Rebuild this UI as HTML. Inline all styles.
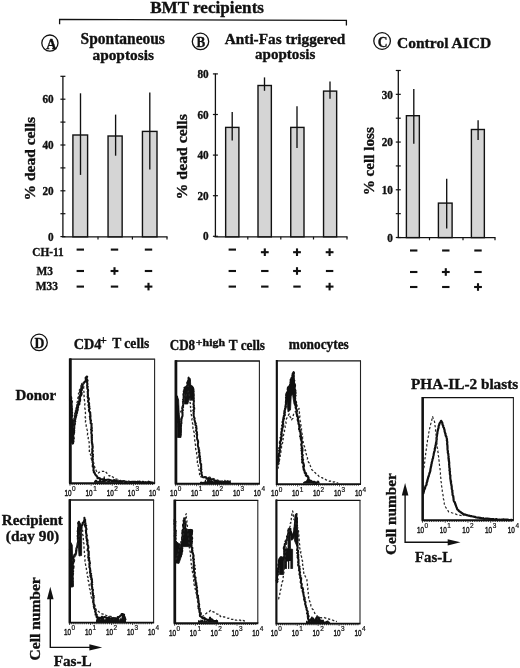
<!DOCTYPE html>
<html><head><meta charset="utf-8"><style>
html,body{margin:0;padding:0;background:#fff;}
svg{display:block;will-change:transform;}
</style></head><body>
<svg width="520" height="668" viewBox="0 0 520 668" fill="#111">
<rect width="520" height="668" fill="#fff"/>
<text x="150.2" y="12.6" style="font-family:'Liberation Serif',serif;font-weight:bold;font-size:17px" stroke="#111" stroke-width="0.35" textLength="113.8" lengthAdjust="spacingAndGlyphs">BMT recipients</text>
<path d="M59.6,24.2 L59.6,19.3 L346.4,20.4 L346.4,25.4" fill="none" stroke="#111" stroke-width="1.3"/>
<circle cx="49.9" cy="43.1" r="8.1" fill="none" stroke="#111" stroke-width="1.3"/>
<text x="46.2" y="48.5" style="font-family:'Liberation Serif',serif;font-weight:bold;font-size:14px" stroke="#111" stroke-width="0.35">A</text>
<circle cx="200.5" cy="41.4" r="8.2" fill="none" stroke="#111" stroke-width="1.3"/>
<text x="196.6" y="47.0" style="font-family:'Liberation Serif',serif;font-weight:bold;font-size:15px" stroke="#111" stroke-width="0.35" textLength="8.7" lengthAdjust="spacingAndGlyphs">B</text>
<circle cx="382.1" cy="41.0" r="8.3" fill="none" stroke="#111" stroke-width="1.3"/>
<text x="377.8" y="46.6" style="font-family:'Liberation Serif',serif;font-weight:bold;font-size:15px" stroke="#111" stroke-width="0.35" textLength="9.8" lengthAdjust="spacingAndGlyphs">C</text>
<circle cx="39.1" cy="342.4" r="8.2" fill="none" stroke="#111" stroke-width="1.3"/>
<text x="34.6" y="348.0" style="font-family:'Liberation Serif',serif;font-weight:bold;font-size:15px" stroke="#111" stroke-width="0.35" textLength="9.9" lengthAdjust="spacingAndGlyphs">D</text>
<text x="80.6" y="44.0" style="font-family:'Liberation Serif',serif;font-weight:bold;font-size:16px" stroke="#111" stroke-width="0.35" textLength="84.3" lengthAdjust="spacingAndGlyphs">Spontaneous</text>
<text x="92.5" y="59.7" style="font-family:'Liberation Serif',serif;font-weight:bold;font-size:15.5px" stroke="#111" stroke-width="0.35" textLength="61.4" lengthAdjust="spacingAndGlyphs">apoptosis</text>
<text x="224.8" y="43.9" style="font-family:'Liberation Serif',serif;font-weight:bold;font-size:15.5px" stroke="#111" stroke-width="0.35" textLength="120.5" lengthAdjust="spacingAndGlyphs">Anti-Fas triggered</text>
<text x="255.0" y="59.1" style="font-family:'Liberation Serif',serif;font-weight:bold;font-size:15.5px" stroke="#111" stroke-width="0.35" textLength="60.3" lengthAdjust="spacingAndGlyphs">apoptosis</text>
<text x="397.0" y="48.0" style="font-family:'Liberation Serif',serif;font-weight:bold;font-size:15.5px" stroke="#111" stroke-width="0.35" textLength="94.2" lengthAdjust="spacingAndGlyphs">Control AICD</text>
<line x1="62.9" y1="76.0" x2="62.9" y2="237.1" stroke="#111" stroke-width="1.3"/>
<line x1="60.4" y1="236.6" x2="65.4" y2="236.6" stroke="#111" stroke-width="1.2"/>
<line x1="60.4" y1="213.7" x2="65.4" y2="213.7" stroke="#111" stroke-width="1.2"/>
<line x1="60.4" y1="190.8" x2="65.4" y2="190.8" stroke="#111" stroke-width="1.2"/>
<line x1="60.4" y1="167.9" x2="65.4" y2="167.9" stroke="#111" stroke-width="1.2"/>
<line x1="60.4" y1="145.0" x2="65.4" y2="145.0" stroke="#111" stroke-width="1.2"/>
<line x1="60.4" y1="122.1" x2="65.4" y2="122.1" stroke="#111" stroke-width="1.2"/>
<line x1="60.4" y1="99.20000000000002" x2="65.4" y2="99.20000000000002" stroke="#111" stroke-width="1.2"/>
<line x1="60.4" y1="76.30000000000001" x2="65.4" y2="76.30000000000001" stroke="#111" stroke-width="1.2"/>
<text x="48.1" y="240.7" style="font-family:'Liberation Serif',serif;font-weight:bold;font-size:11.5px" stroke="#111" stroke-width="0.35" textLength="5.6" lengthAdjust="spacingAndGlyphs">0</text>
<text x="42.5" y="194.9" style="font-family:'Liberation Serif',serif;font-weight:bold;font-size:11.5px" stroke="#111" stroke-width="0.35" textLength="11.2" lengthAdjust="spacingAndGlyphs">20</text>
<text x="42.5" y="149.1" style="font-family:'Liberation Serif',serif;font-weight:bold;font-size:11.5px" stroke="#111" stroke-width="0.35" textLength="11.2" lengthAdjust="spacingAndGlyphs">40</text>
<text x="42.5" y="103.30000000000001" style="font-family:'Liberation Serif',serif;font-weight:bold;font-size:11.5px" stroke="#111" stroke-width="0.35" textLength="11.2" lengthAdjust="spacingAndGlyphs">60</text>
<line x1="62.0" y1="236.8" x2="167.5" y2="236.8" stroke="#111" stroke-width="1.3"/>
<line x1="98.0" y1="236.8" x2="98.0" y2="239.5" stroke="#111" stroke-width="1.2"/>
<line x1="132.4" y1="236.8" x2="132.4" y2="239.5" stroke="#111" stroke-width="1.2"/>
<line x1="167.0" y1="236.8" x2="167.0" y2="239.5" stroke="#111" stroke-width="1.2"/>
<rect x="72.9" y="135.0" width="14.7" height="101.8" fill="#d5d5d5" stroke="#111" stroke-width="1.4"/>
<rect x="108.05" y="136.0" width="14.1" height="100.8" fill="#d5d5d5" stroke="#111" stroke-width="1.4"/>
<rect x="142.45" y="131.4" width="14.55" height="105.4" fill="#d5d5d5" stroke="#111" stroke-width="1.4"/>
<line x1="80.5" y1="93.3" x2="80.5" y2="174.9" stroke="#111" stroke-width="1.35"/>
<line x1="115.6" y1="114.6" x2="115.6" y2="155.7" stroke="#111" stroke-width="1.35"/>
<line x1="149.8" y1="92.5" x2="149.8" y2="169.4" stroke="#111" stroke-width="1.35"/>
<text transform="translate(35.3,200.4) rotate(-90)" style="font-family:'Liberation Serif',serif;font-weight:bold;font-size:15.5px" stroke="#111" stroke-width="0.35" textLength="83.4" lengthAdjust="spacingAndGlyphs">% dead cells</text>
<text x="32.3" y="255.8" style="font-family:'Liberation Serif',serif;font-weight:bold;font-size:12px" stroke="#111" stroke-width="0.35" textLength="31.4" lengthAdjust="spacingAndGlyphs">CH-11</text>
<text x="36.4" y="274.8" style="font-family:'Liberation Serif',serif;font-weight:bold;font-size:12px" stroke="#111" stroke-width="0.35" textLength="16.5" lengthAdjust="spacingAndGlyphs">M3</text>
<text x="35.7" y="289.6" style="font-family:'Liberation Serif',serif;font-weight:bold;font-size:12px" stroke="#111" stroke-width="0.35" textLength="22.3" lengthAdjust="spacingAndGlyphs">M33</text>
<rect x="76.6" y="248.54999999999998" width="7.4" height="2.1" fill="#111"/>
<rect x="110.8" y="248.54999999999998" width="7.4" height="2.1" fill="#111"/>
<rect x="144.8" y="248.54999999999998" width="7.4" height="2.1" fill="#111"/>
<rect x="76.6" y="269.95" width="7.4" height="2.1" fill="#111"/>
<rect x="110.6" y="269.95" width="7.8" height="2.1" fill="#111"/>
<rect x="113.45" y="267.2" width="2.1" height="7.6" fill="#111"/>
<rect x="144.8" y="269.95" width="7.4" height="2.1" fill="#111"/>
<rect x="76.6" y="285.55" width="7.4" height="2.1" fill="#111"/>
<rect x="110.8" y="285.55" width="7.4" height="2.1" fill="#111"/>
<rect x="144.6" y="285.55" width="7.8" height="2.1" fill="#111"/>
<rect x="147.45" y="282.8" width="2.1" height="7.6" fill="#111"/>
<line x1="215.4" y1="73.6" x2="215.4" y2="236.8" stroke="#111" stroke-width="1.3"/>
<line x1="212.9" y1="236.3" x2="217.9" y2="236.3" stroke="#111" stroke-width="1.2"/>
<line x1="212.9" y1="195.70000000000002" x2="217.9" y2="195.70000000000002" stroke="#111" stroke-width="1.2"/>
<line x1="212.9" y1="155.10000000000002" x2="217.9" y2="155.10000000000002" stroke="#111" stroke-width="1.2"/>
<line x1="212.9" y1="114.5" x2="217.9" y2="114.5" stroke="#111" stroke-width="1.2"/>
<line x1="212.9" y1="73.9" x2="217.9" y2="73.9" stroke="#111" stroke-width="1.2"/>
<text x="203.1" y="240.4" style="font-family:'Liberation Serif',serif;font-weight:bold;font-size:11.5px" stroke="#111" stroke-width="0.35" textLength="5.6" lengthAdjust="spacingAndGlyphs">0</text>
<text x="197.5" y="199.8" style="font-family:'Liberation Serif',serif;font-weight:bold;font-size:11.5px" stroke="#111" stroke-width="0.35" textLength="11.2" lengthAdjust="spacingAndGlyphs">20</text>
<text x="197.5" y="159.20000000000002" style="font-family:'Liberation Serif',serif;font-weight:bold;font-size:11.5px" stroke="#111" stroke-width="0.35" textLength="11.2" lengthAdjust="spacingAndGlyphs">40</text>
<text x="197.5" y="118.6" style="font-family:'Liberation Serif',serif;font-weight:bold;font-size:11.5px" stroke="#111" stroke-width="0.35" textLength="11.2" lengthAdjust="spacingAndGlyphs">60</text>
<text x="197.5" y="78.0" style="font-family:'Liberation Serif',serif;font-weight:bold;font-size:11.5px" stroke="#111" stroke-width="0.35" textLength="11.2" lengthAdjust="spacingAndGlyphs">80</text>
<line x1="214.5" y1="236.8" x2="347.5" y2="236.8" stroke="#111" stroke-width="1.3"/>
<line x1="247.8" y1="236.8" x2="247.8" y2="239.5" stroke="#111" stroke-width="1.2"/>
<line x1="280.8" y1="236.8" x2="280.8" y2="239.5" stroke="#111" stroke-width="1.2"/>
<line x1="313.5" y1="236.8" x2="313.5" y2="239.5" stroke="#111" stroke-width="1.2"/>
<line x1="347.0" y1="236.8" x2="347.0" y2="239.5" stroke="#111" stroke-width="1.2"/>
<rect x="225.65" y="127.4" width="13.25" height="109.4" fill="#d5d5d5" stroke="#111" stroke-width="1.4"/>
<rect x="258.0" y="85.5" width="13.35" height="151.3" fill="#d5d5d5" stroke="#111" stroke-width="1.4"/>
<rect x="290.75" y="127.4" width="13.25" height="109.4" fill="#d5d5d5" stroke="#111" stroke-width="1.4"/>
<rect x="323.55" y="91.1" width="13.1" height="145.7" fill="#d5d5d5" stroke="#111" stroke-width="1.4"/>
<line x1="232.2" y1="112.0" x2="232.2" y2="140.6" stroke="#111" stroke-width="1.35"/>
<line x1="264.5" y1="77.4" x2="264.5" y2="90.8" stroke="#111" stroke-width="1.35"/>
<line x1="297.0" y1="106.2" x2="297.0" y2="148.1" stroke="#111" stroke-width="1.35"/>
<line x1="330.0" y1="81.4" x2="330.0" y2="98.7" stroke="#111" stroke-width="1.35"/>
<text transform="translate(187.3,199.4) rotate(-90)" style="font-family:'Liberation Serif',serif;font-weight:bold;font-size:15.5px" stroke="#111" stroke-width="0.35" textLength="85.2" lengthAdjust="spacingAndGlyphs">% dead cells</text>
<rect x="228.60000000000002" y="248.54999999999998" width="7.4" height="2.1" fill="#111"/>
<rect x="260.90000000000003" y="251.14999999999998" width="7.8" height="2.1" fill="#111"/>
<rect x="263.75" y="248.39999999999998" width="2.1" height="7.6" fill="#111"/>
<rect x="293.1" y="251.14999999999998" width="7.8" height="2.1" fill="#111"/>
<rect x="295.95" y="248.39999999999998" width="2.1" height="7.6" fill="#111"/>
<rect x="325.70000000000005" y="251.14999999999998" width="7.8" height="2.1" fill="#111"/>
<rect x="328.55" y="248.39999999999998" width="2.1" height="7.6" fill="#111"/>
<rect x="228.60000000000002" y="269.95" width="7.4" height="2.1" fill="#111"/>
<rect x="261.1" y="269.95" width="7.4" height="2.1" fill="#111"/>
<rect x="293.1" y="269.95" width="7.8" height="2.1" fill="#111"/>
<rect x="295.95" y="267.2" width="2.1" height="7.6" fill="#111"/>
<rect x="325.90000000000003" y="269.95" width="7.4" height="2.1" fill="#111"/>
<rect x="228.60000000000002" y="285.55" width="7.4" height="2.1" fill="#111"/>
<rect x="261.1" y="285.55" width="7.4" height="2.1" fill="#111"/>
<rect x="293.3" y="285.55" width="7.4" height="2.1" fill="#111"/>
<rect x="325.70000000000005" y="285.55" width="7.8" height="2.1" fill="#111"/>
<rect x="328.55" y="282.8" width="2.1" height="7.6" fill="#111"/>
<line x1="398.3" y1="70.5" x2="398.3" y2="238.0" stroke="#111" stroke-width="1.3"/>
<line x1="395.8" y1="237.5" x2="400.8" y2="237.5" stroke="#111" stroke-width="1.2"/>
<line x1="395.8" y1="213.64" x2="400.8" y2="213.64" stroke="#111" stroke-width="1.2"/>
<line x1="395.8" y1="189.78" x2="400.8" y2="189.78" stroke="#111" stroke-width="1.2"/>
<line x1="395.8" y1="165.92000000000002" x2="400.8" y2="165.92000000000002" stroke="#111" stroke-width="1.2"/>
<line x1="395.8" y1="142.06" x2="400.8" y2="142.06" stroke="#111" stroke-width="1.2"/>
<line x1="395.8" y1="118.2" x2="400.8" y2="118.2" stroke="#111" stroke-width="1.2"/>
<line x1="395.8" y1="94.34" x2="400.8" y2="94.34" stroke="#111" stroke-width="1.2"/>
<line x1="395.8" y1="70.48000000000002" x2="400.8" y2="70.48000000000002" stroke="#111" stroke-width="1.2"/>
<text x="387.29999999999995" y="241.7" style="font-family:'Liberation Serif',serif;font-weight:bold;font-size:11.5px" stroke="#111" stroke-width="0.35" textLength="5.6" lengthAdjust="spacingAndGlyphs">0</text>
<text x="381.7" y="193.98" style="font-family:'Liberation Serif',serif;font-weight:bold;font-size:11.5px" stroke="#111" stroke-width="0.35" textLength="11.2" lengthAdjust="spacingAndGlyphs">10</text>
<text x="381.7" y="146.26" style="font-family:'Liberation Serif',serif;font-weight:bold;font-size:11.5px" stroke="#111" stroke-width="0.35" textLength="11.2" lengthAdjust="spacingAndGlyphs">20</text>
<text x="381.7" y="98.54" style="font-family:'Liberation Serif',serif;font-weight:bold;font-size:11.5px" stroke="#111" stroke-width="0.35" textLength="11.2" lengthAdjust="spacingAndGlyphs">30</text>
<line x1="397.5" y1="237.6" x2="495.5" y2="237.6" stroke="#111" stroke-width="1.3"/>
<line x1="429.5" y1="237.6" x2="429.5" y2="240.3" stroke="#111" stroke-width="1.2"/>
<line x1="463.0" y1="237.6" x2="463.0" y2="240.3" stroke="#111" stroke-width="1.2"/>
<line x1="495.0" y1="237.6" x2="495.0" y2="240.3" stroke="#111" stroke-width="1.2"/>
<rect x="406.4" y="115.7" width="12.95" height="121.9" fill="#d5d5d5" stroke="#111" stroke-width="1.4"/>
<rect x="438.4" y="203.1" width="13.7" height="34.5" fill="#d5d5d5" stroke="#111" stroke-width="1.4"/>
<rect x="471.4" y="129.5" width="12.95" height="108.1" fill="#d5d5d5" stroke="#111" stroke-width="1.4"/>
<line x1="413.8" y1="88.9" x2="413.8" y2="143.7" stroke="#111" stroke-width="1.35"/>
<line x1="446.7" y1="178.7" x2="446.7" y2="228.5" stroke="#111" stroke-width="1.35"/>
<line x1="478.1" y1="120.2" x2="478.1" y2="140.1" stroke="#111" stroke-width="1.35"/>
<text transform="translate(373.7,195.3) rotate(-90)" style="font-family:'Liberation Serif',serif;font-weight:bold;font-size:15.5px" stroke="#111" stroke-width="0.35" textLength="68.1" lengthAdjust="spacingAndGlyphs">% cell loss</text>
<rect x="410.0" y="249.45" width="7.4" height="2.1" fill="#111"/>
<rect x="442.1" y="249.45" width="7.4" height="2.1" fill="#111"/>
<rect x="474.3" y="249.45" width="7.4" height="2.1" fill="#111"/>
<rect x="410.0" y="270.95" width="7.4" height="2.1" fill="#111"/>
<rect x="441.90000000000003" y="270.95" width="7.8" height="2.1" fill="#111"/>
<rect x="444.75" y="268.2" width="2.1" height="7.6" fill="#111"/>
<rect x="474.3" y="270.95" width="7.4" height="2.1" fill="#111"/>
<rect x="410.0" y="285.95" width="7.4" height="2.1" fill="#111"/>
<rect x="442.1" y="285.95" width="7.4" height="2.1" fill="#111"/>
<rect x="474.1" y="285.95" width="7.8" height="2.1" fill="#111"/>
<rect x="476.95" y="283.2" width="2.1" height="7.6" fill="#111"/>
<text x="73.8" y="348.6" style="font-family:'Liberation Serif',serif;font-weight:bold;font-size:14px" stroke="#111" stroke-width="0.35" textLength="27.7" lengthAdjust="spacingAndGlyphs">CD4</text>
<text x="99.9" y="343.9" style="font-family:'Liberation Serif',serif;font-weight:bold;font-size:12px" stroke="#111" stroke-width="0.35" textLength="6.8" lengthAdjust="spacingAndGlyphs">+</text>
<text x="112.2" y="348.4" style="font-family:'Liberation Serif',serif;font-weight:bold;font-size:14px" stroke="#111" stroke-width="0.35" textLength="37.0" lengthAdjust="spacingAndGlyphs">T cells</text>
<text x="169.7" y="349.6" style="font-family:'Liberation Serif',serif;font-weight:bold;font-size:14px" stroke="#111" stroke-width="0.35" textLength="25.5" lengthAdjust="spacingAndGlyphs">CD8</text>
<text x="195.8" y="345.5" style="font-family:'Liberation Serif',serif;font-weight:bold;font-size:10.5px" stroke="#111" stroke-width="0.35" textLength="29.2" lengthAdjust="spacingAndGlyphs">+high</text>
<text x="228.8" y="349.6" style="font-family:'Liberation Serif',serif;font-weight:bold;font-size:14px" stroke="#111" stroke-width="0.35" textLength="36.2" lengthAdjust="spacingAndGlyphs">T cells</text>
<text x="288.8" y="349.2" style="font-family:'Liberation Serif',serif;font-weight:bold;font-size:14px" stroke="#111" stroke-width="0.35" textLength="60.0" lengthAdjust="spacingAndGlyphs">monocytes</text>
<text x="15.4" y="400.3" style="font-family:'Liberation Serif',serif;font-weight:bold;font-size:15px" stroke="#111" stroke-width="0.35" textLength="40.8" lengthAdjust="spacingAndGlyphs">Donor</text>
<text x="1.8" y="525.1" style="font-family:'Liberation Serif',serif;font-weight:bold;font-size:15px" stroke="#111" stroke-width="0.35" textLength="61.0" lengthAdjust="spacingAndGlyphs">Recipient</text>
<text x="5.8" y="540.8" style="font-family:'Liberation Serif',serif;font-weight:bold;font-size:15px" stroke="#111" stroke-width="0.35" textLength="53.4" lengthAdjust="spacingAndGlyphs">(day 90)</text>
<text x="411.0" y="388.5" style="font-family:'Liberation Serif',serif;font-weight:bold;font-size:15px" stroke="#111" stroke-width="0.35" textLength="107.2" lengthAdjust="spacingAndGlyphs">PHA-IL-2 blasts</text>
<line x1="70.0" y1="359.2" x2="155.1" y2="359.2" stroke="#111" stroke-width="1.3"/>
<line x1="154.6" y1="359.2" x2="154.6" y2="483.3" stroke="#222" stroke-width="1.1"/>
<path d="M70.0,358.5 L70.0,483.3 L155.1,483.3" fill="none" stroke="#111" stroke-width="1.9"/>
<line x1="70.3" y1="358.5" x2="70.3" y2="483.3" stroke="#111" stroke-width="2.9"/>
<text x="64.4" y="495.5" style="font-family:'Liberation Sans',sans-serif;font-size:8.6px" stroke="#111" textLength="7.1" lengthAdjust="spacingAndGlyphs" stroke-width="0.4">10</text>
<text x="72.0" y="490.9" style="font-family:'Liberation Sans',sans-serif;font-size:6.6px" stroke="#111" textLength="3.6" lengthAdjust="spacingAndGlyphs" stroke-width="0.2">0</text>
<text x="85.55000000000001" y="495.5" style="font-family:'Liberation Sans',sans-serif;font-size:8.6px" stroke="#111" textLength="7.1" lengthAdjust="spacingAndGlyphs" stroke-width="0.4">10</text>
<text x="93.15" y="490.9" style="font-family:'Liberation Sans',sans-serif;font-size:6.6px" stroke="#111" textLength="3.6" lengthAdjust="spacingAndGlyphs" stroke-width="0.2">1</text>
<text x="106.7" y="495.5" style="font-family:'Liberation Sans',sans-serif;font-size:8.6px" stroke="#111" textLength="7.1" lengthAdjust="spacingAndGlyphs" stroke-width="0.4">10</text>
<text x="114.3" y="490.9" style="font-family:'Liberation Sans',sans-serif;font-size:6.6px" stroke="#111" textLength="3.6" lengthAdjust="spacingAndGlyphs" stroke-width="0.2">2</text>
<text x="127.85" y="495.5" style="font-family:'Liberation Sans',sans-serif;font-size:8.6px" stroke="#111" textLength="7.1" lengthAdjust="spacingAndGlyphs" stroke-width="0.4">10</text>
<text x="135.45" y="490.9" style="font-family:'Liberation Sans',sans-serif;font-size:6.6px" stroke="#111" textLength="3.6" lengthAdjust="spacingAndGlyphs" stroke-width="0.2">3</text>
<text x="149.0" y="495.5" style="font-family:'Liberation Sans',sans-serif;font-size:8.6px" stroke="#111" textLength="7.1" lengthAdjust="spacingAndGlyphs" stroke-width="0.4">10</text>
<text x="156.6" y="490.9" style="font-family:'Liberation Sans',sans-serif;font-size:6.6px" stroke="#111" textLength="3.6" lengthAdjust="spacingAndGlyphs" stroke-width="0.2">4</text>
<line x1="70.0" y1="483.3" x2="70.0" y2="485.7" stroke="#111" stroke-width="0.8"/>
<line x1="72.115" y1="483.3" x2="72.115" y2="485.0" stroke="#111" stroke-width="0.8"/>
<line x1="74.23" y1="483.3" x2="74.23" y2="485.0" stroke="#111" stroke-width="0.8"/>
<line x1="76.345" y1="483.3" x2="76.345" y2="485.0" stroke="#111" stroke-width="0.8"/>
<line x1="78.46" y1="483.3" x2="78.46" y2="485.0" stroke="#111" stroke-width="0.8"/>
<line x1="80.575" y1="483.3" x2="80.575" y2="485.0" stroke="#111" stroke-width="0.8"/>
<line x1="82.69" y1="483.3" x2="82.69" y2="485.0" stroke="#111" stroke-width="0.8"/>
<line x1="84.80499999999999" y1="483.3" x2="84.80499999999999" y2="485.0" stroke="#111" stroke-width="0.8"/>
<line x1="86.92" y1="483.3" x2="86.92" y2="485.0" stroke="#111" stroke-width="0.8"/>
<line x1="89.035" y1="483.3" x2="89.035" y2="485.0" stroke="#111" stroke-width="0.8"/>
<line x1="91.15" y1="483.3" x2="91.15" y2="485.7" stroke="#111" stroke-width="0.8"/>
<line x1="93.265" y1="483.3" x2="93.265" y2="485.0" stroke="#111" stroke-width="0.8"/>
<line x1="95.38" y1="483.3" x2="95.38" y2="485.0" stroke="#111" stroke-width="0.8"/>
<line x1="97.495" y1="483.3" x2="97.495" y2="485.0" stroke="#111" stroke-width="0.8"/>
<line x1="99.61" y1="483.3" x2="99.61" y2="485.0" stroke="#111" stroke-width="0.8"/>
<line x1="101.725" y1="483.3" x2="101.725" y2="485.0" stroke="#111" stroke-width="0.8"/>
<line x1="103.84" y1="483.3" x2="103.84" y2="485.0" stroke="#111" stroke-width="0.8"/>
<line x1="105.955" y1="483.3" x2="105.955" y2="485.0" stroke="#111" stroke-width="0.8"/>
<line x1="108.07" y1="483.3" x2="108.07" y2="485.0" stroke="#111" stroke-width="0.8"/>
<line x1="110.185" y1="483.3" x2="110.185" y2="485.0" stroke="#111" stroke-width="0.8"/>
<line x1="112.3" y1="483.3" x2="112.3" y2="485.7" stroke="#111" stroke-width="0.8"/>
<line x1="114.41499999999999" y1="483.3" x2="114.41499999999999" y2="485.0" stroke="#111" stroke-width="0.8"/>
<line x1="116.53" y1="483.3" x2="116.53" y2="485.0" stroke="#111" stroke-width="0.8"/>
<line x1="118.645" y1="483.3" x2="118.645" y2="485.0" stroke="#111" stroke-width="0.8"/>
<line x1="120.75999999999999" y1="483.3" x2="120.75999999999999" y2="485.0" stroke="#111" stroke-width="0.8"/>
<line x1="122.875" y1="483.3" x2="122.875" y2="485.0" stroke="#111" stroke-width="0.8"/>
<line x1="124.99" y1="483.3" x2="124.99" y2="485.0" stroke="#111" stroke-width="0.8"/>
<line x1="127.10499999999999" y1="483.3" x2="127.10499999999999" y2="485.0" stroke="#111" stroke-width="0.8"/>
<line x1="129.22" y1="483.3" x2="129.22" y2="485.0" stroke="#111" stroke-width="0.8"/>
<line x1="131.33499999999998" y1="483.3" x2="131.33499999999998" y2="485.0" stroke="#111" stroke-width="0.8"/>
<line x1="133.45" y1="483.3" x2="133.45" y2="485.7" stroke="#111" stroke-width="0.8"/>
<line x1="135.565" y1="483.3" x2="135.565" y2="485.0" stroke="#111" stroke-width="0.8"/>
<line x1="137.68" y1="483.3" x2="137.68" y2="485.0" stroke="#111" stroke-width="0.8"/>
<line x1="139.795" y1="483.3" x2="139.795" y2="485.0" stroke="#111" stroke-width="0.8"/>
<line x1="141.91" y1="483.3" x2="141.91" y2="485.0" stroke="#111" stroke-width="0.8"/>
<line x1="144.025" y1="483.3" x2="144.025" y2="485.0" stroke="#111" stroke-width="0.8"/>
<line x1="146.14" y1="483.3" x2="146.14" y2="485.0" stroke="#111" stroke-width="0.8"/>
<line x1="148.255" y1="483.3" x2="148.255" y2="485.0" stroke="#111" stroke-width="0.8"/>
<line x1="150.37" y1="483.3" x2="150.37" y2="485.0" stroke="#111" stroke-width="0.8"/>
<line x1="152.48499999999999" y1="483.3" x2="152.48499999999999" y2="485.0" stroke="#111" stroke-width="0.8"/>
<line x1="175.7" y1="361.0" x2="259.9" y2="361.0" stroke="#111" stroke-width="1.3"/>
<line x1="259.4" y1="361.0" x2="259.4" y2="483.8" stroke="#222" stroke-width="1.1"/>
<path d="M175.7,360.3 L175.7,483.8 L259.9,483.8" fill="none" stroke="#111" stroke-width="1.9"/>
<line x1="176.0" y1="360.3" x2="176.0" y2="483.8" stroke="#111" stroke-width="2.6"/>
<text x="170.1" y="496.0" style="font-family:'Liberation Sans',sans-serif;font-size:8.6px" stroke="#111" textLength="7.1" lengthAdjust="spacingAndGlyphs" stroke-width="0.4">10</text>
<text x="177.7" y="491.4" style="font-family:'Liberation Sans',sans-serif;font-size:6.6px" stroke="#111" textLength="3.6" lengthAdjust="spacingAndGlyphs" stroke-width="0.2">0</text>
<text x="191.02499999999998" y="496.0" style="font-family:'Liberation Sans',sans-serif;font-size:8.6px" stroke="#111" textLength="7.1" lengthAdjust="spacingAndGlyphs" stroke-width="0.4">10</text>
<text x="198.62499999999997" y="491.4" style="font-family:'Liberation Sans',sans-serif;font-size:6.6px" stroke="#111" textLength="3.6" lengthAdjust="spacingAndGlyphs" stroke-width="0.2">1</text>
<text x="211.95" y="496.0" style="font-family:'Liberation Sans',sans-serif;font-size:8.6px" stroke="#111" textLength="7.1" lengthAdjust="spacingAndGlyphs" stroke-width="0.4">10</text>
<text x="219.54999999999998" y="491.4" style="font-family:'Liberation Sans',sans-serif;font-size:6.6px" stroke="#111" textLength="3.6" lengthAdjust="spacingAndGlyphs" stroke-width="0.2">2</text>
<text x="232.875" y="496.0" style="font-family:'Liberation Sans',sans-serif;font-size:8.6px" stroke="#111" textLength="7.1" lengthAdjust="spacingAndGlyphs" stroke-width="0.4">10</text>
<text x="240.475" y="491.4" style="font-family:'Liberation Sans',sans-serif;font-size:6.6px" stroke="#111" textLength="3.6" lengthAdjust="spacingAndGlyphs" stroke-width="0.2">3</text>
<text x="253.79999999999998" y="496.0" style="font-family:'Liberation Sans',sans-serif;font-size:8.6px" stroke="#111" textLength="7.1" lengthAdjust="spacingAndGlyphs" stroke-width="0.4">10</text>
<text x="261.4" y="491.4" style="font-family:'Liberation Sans',sans-serif;font-size:6.6px" stroke="#111" textLength="3.6" lengthAdjust="spacingAndGlyphs" stroke-width="0.2">4</text>
<line x1="175.7" y1="483.8" x2="175.7" y2="486.2" stroke="#111" stroke-width="0.8"/>
<line x1="177.7925" y1="483.8" x2="177.7925" y2="485.5" stroke="#111" stroke-width="0.8"/>
<line x1="179.885" y1="483.8" x2="179.885" y2="485.5" stroke="#111" stroke-width="0.8"/>
<line x1="181.9775" y1="483.8" x2="181.9775" y2="485.5" stroke="#111" stroke-width="0.8"/>
<line x1="184.07" y1="483.8" x2="184.07" y2="485.5" stroke="#111" stroke-width="0.8"/>
<line x1="186.1625" y1="483.8" x2="186.1625" y2="485.5" stroke="#111" stroke-width="0.8"/>
<line x1="188.255" y1="483.8" x2="188.255" y2="485.5" stroke="#111" stroke-width="0.8"/>
<line x1="190.3475" y1="483.8" x2="190.3475" y2="485.5" stroke="#111" stroke-width="0.8"/>
<line x1="192.44" y1="483.8" x2="192.44" y2="485.5" stroke="#111" stroke-width="0.8"/>
<line x1="194.5325" y1="483.8" x2="194.5325" y2="485.5" stroke="#111" stroke-width="0.8"/>
<line x1="196.625" y1="483.8" x2="196.625" y2="486.2" stroke="#111" stroke-width="0.8"/>
<line x1="198.71749999999997" y1="483.8" x2="198.71749999999997" y2="485.5" stroke="#111" stroke-width="0.8"/>
<line x1="200.80999999999997" y1="483.8" x2="200.80999999999997" y2="485.5" stroke="#111" stroke-width="0.8"/>
<line x1="202.90249999999997" y1="483.8" x2="202.90249999999997" y2="485.5" stroke="#111" stroke-width="0.8"/>
<line x1="204.99499999999998" y1="483.8" x2="204.99499999999998" y2="485.5" stroke="#111" stroke-width="0.8"/>
<line x1="207.08749999999998" y1="483.8" x2="207.08749999999998" y2="485.5" stroke="#111" stroke-width="0.8"/>
<line x1="209.17999999999998" y1="483.8" x2="209.17999999999998" y2="485.5" stroke="#111" stroke-width="0.8"/>
<line x1="211.27249999999998" y1="483.8" x2="211.27249999999998" y2="485.5" stroke="#111" stroke-width="0.8"/>
<line x1="213.36499999999998" y1="483.8" x2="213.36499999999998" y2="485.5" stroke="#111" stroke-width="0.8"/>
<line x1="215.45749999999998" y1="483.8" x2="215.45749999999998" y2="485.5" stroke="#111" stroke-width="0.8"/>
<line x1="217.54999999999998" y1="483.8" x2="217.54999999999998" y2="486.2" stroke="#111" stroke-width="0.8"/>
<line x1="219.64249999999998" y1="483.8" x2="219.64249999999998" y2="485.5" stroke="#111" stroke-width="0.8"/>
<line x1="221.73499999999999" y1="483.8" x2="221.73499999999999" y2="485.5" stroke="#111" stroke-width="0.8"/>
<line x1="223.8275" y1="483.8" x2="223.8275" y2="485.5" stroke="#111" stroke-width="0.8"/>
<line x1="225.92" y1="483.8" x2="225.92" y2="485.5" stroke="#111" stroke-width="0.8"/>
<line x1="228.0125" y1="483.8" x2="228.0125" y2="485.5" stroke="#111" stroke-width="0.8"/>
<line x1="230.105" y1="483.8" x2="230.105" y2="485.5" stroke="#111" stroke-width="0.8"/>
<line x1="232.1975" y1="483.8" x2="232.1975" y2="485.5" stroke="#111" stroke-width="0.8"/>
<line x1="234.28999999999996" y1="483.8" x2="234.28999999999996" y2="485.5" stroke="#111" stroke-width="0.8"/>
<line x1="236.3825" y1="483.8" x2="236.3825" y2="485.5" stroke="#111" stroke-width="0.8"/>
<line x1="238.47499999999997" y1="483.8" x2="238.47499999999997" y2="486.2" stroke="#111" stroke-width="0.8"/>
<line x1="240.5675" y1="483.8" x2="240.5675" y2="485.5" stroke="#111" stroke-width="0.8"/>
<line x1="242.65999999999997" y1="483.8" x2="242.65999999999997" y2="485.5" stroke="#111" stroke-width="0.8"/>
<line x1="244.75249999999997" y1="483.8" x2="244.75249999999997" y2="485.5" stroke="#111" stroke-width="0.8"/>
<line x1="246.84499999999997" y1="483.8" x2="246.84499999999997" y2="485.5" stroke="#111" stroke-width="0.8"/>
<line x1="248.93749999999997" y1="483.8" x2="248.93749999999997" y2="485.5" stroke="#111" stroke-width="0.8"/>
<line x1="251.02999999999997" y1="483.8" x2="251.02999999999997" y2="485.5" stroke="#111" stroke-width="0.8"/>
<line x1="253.12249999999997" y1="483.8" x2="253.12249999999997" y2="485.5" stroke="#111" stroke-width="0.8"/>
<line x1="255.21499999999997" y1="483.8" x2="255.21499999999997" y2="485.5" stroke="#111" stroke-width="0.8"/>
<line x1="257.3075" y1="483.8" x2="257.3075" y2="485.5" stroke="#111" stroke-width="0.8"/>
<line x1="276.7" y1="360.8" x2="361.0" y2="360.8" stroke="#111" stroke-width="1.3"/>
<line x1="360.5" y1="360.8" x2="360.5" y2="484.1" stroke="#222" stroke-width="1.1"/>
<path d="M276.7,360.1 L276.7,484.1 L361.0,484.1" fill="none" stroke="#111" stroke-width="1.9"/>
<line x1="277.0" y1="360.1" x2="277.0" y2="484.1" stroke="#111" stroke-width="1.4"/>
<text x="271.09999999999997" y="496.3" style="font-family:'Liberation Sans',sans-serif;font-size:8.6px" stroke="#111" textLength="7.1" lengthAdjust="spacingAndGlyphs" stroke-width="0.4">10</text>
<text x="278.7" y="491.7" style="font-family:'Liberation Sans',sans-serif;font-size:6.6px" stroke="#111" textLength="3.6" lengthAdjust="spacingAndGlyphs" stroke-width="0.2">0</text>
<text x="292.04999999999995" y="496.3" style="font-family:'Liberation Sans',sans-serif;font-size:8.6px" stroke="#111" textLength="7.1" lengthAdjust="spacingAndGlyphs" stroke-width="0.4">10</text>
<text x="299.65" y="491.7" style="font-family:'Liberation Sans',sans-serif;font-size:6.6px" stroke="#111" textLength="3.6" lengthAdjust="spacingAndGlyphs" stroke-width="0.2">1</text>
<text x="313.0" y="496.3" style="font-family:'Liberation Sans',sans-serif;font-size:8.6px" stroke="#111" textLength="7.1" lengthAdjust="spacingAndGlyphs" stroke-width="0.4">10</text>
<text x="320.6" y="491.7" style="font-family:'Liberation Sans',sans-serif;font-size:6.6px" stroke="#111" textLength="3.6" lengthAdjust="spacingAndGlyphs" stroke-width="0.2">2</text>
<text x="333.95" y="496.3" style="font-family:'Liberation Sans',sans-serif;font-size:8.6px" stroke="#111" textLength="7.1" lengthAdjust="spacingAndGlyphs" stroke-width="0.4">10</text>
<text x="341.55" y="491.7" style="font-family:'Liberation Sans',sans-serif;font-size:6.6px" stroke="#111" textLength="3.6" lengthAdjust="spacingAndGlyphs" stroke-width="0.2">3</text>
<text x="354.9" y="496.3" style="font-family:'Liberation Sans',sans-serif;font-size:8.6px" stroke="#111" textLength="7.1" lengthAdjust="spacingAndGlyphs" stroke-width="0.4">10</text>
<text x="362.5" y="491.7" style="font-family:'Liberation Sans',sans-serif;font-size:6.6px" stroke="#111" textLength="3.6" lengthAdjust="spacingAndGlyphs" stroke-width="0.2">4</text>
<line x1="276.7" y1="484.1" x2="276.7" y2="486.5" stroke="#111" stroke-width="0.8"/>
<line x1="278.795" y1="484.1" x2="278.795" y2="485.8" stroke="#111" stroke-width="0.8"/>
<line x1="280.89" y1="484.1" x2="280.89" y2="485.8" stroke="#111" stroke-width="0.8"/>
<line x1="282.985" y1="484.1" x2="282.985" y2="485.8" stroke="#111" stroke-width="0.8"/>
<line x1="285.08" y1="484.1" x2="285.08" y2="485.8" stroke="#111" stroke-width="0.8"/>
<line x1="287.175" y1="484.1" x2="287.175" y2="485.8" stroke="#111" stroke-width="0.8"/>
<line x1="289.27" y1="484.1" x2="289.27" y2="485.8" stroke="#111" stroke-width="0.8"/>
<line x1="291.365" y1="484.1" x2="291.365" y2="485.8" stroke="#111" stroke-width="0.8"/>
<line x1="293.46" y1="484.1" x2="293.46" y2="485.8" stroke="#111" stroke-width="0.8"/>
<line x1="295.555" y1="484.1" x2="295.555" y2="485.8" stroke="#111" stroke-width="0.8"/>
<line x1="297.65" y1="484.1" x2="297.65" y2="486.5" stroke="#111" stroke-width="0.8"/>
<line x1="299.745" y1="484.1" x2="299.745" y2="485.8" stroke="#111" stroke-width="0.8"/>
<line x1="301.84" y1="484.1" x2="301.84" y2="485.8" stroke="#111" stroke-width="0.8"/>
<line x1="303.935" y1="484.1" x2="303.935" y2="485.8" stroke="#111" stroke-width="0.8"/>
<line x1="306.03" y1="484.1" x2="306.03" y2="485.8" stroke="#111" stroke-width="0.8"/>
<line x1="308.125" y1="484.1" x2="308.125" y2="485.8" stroke="#111" stroke-width="0.8"/>
<line x1="310.21999999999997" y1="484.1" x2="310.21999999999997" y2="485.8" stroke="#111" stroke-width="0.8"/>
<line x1="312.315" y1="484.1" x2="312.315" y2="485.8" stroke="#111" stroke-width="0.8"/>
<line x1="314.40999999999997" y1="484.1" x2="314.40999999999997" y2="485.8" stroke="#111" stroke-width="0.8"/>
<line x1="316.505" y1="484.1" x2="316.505" y2="485.8" stroke="#111" stroke-width="0.8"/>
<line x1="318.6" y1="484.1" x2="318.6" y2="486.5" stroke="#111" stroke-width="0.8"/>
<line x1="320.695" y1="484.1" x2="320.695" y2="485.8" stroke="#111" stroke-width="0.8"/>
<line x1="322.79" y1="484.1" x2="322.79" y2="485.8" stroke="#111" stroke-width="0.8"/>
<line x1="324.885" y1="484.1" x2="324.885" y2="485.8" stroke="#111" stroke-width="0.8"/>
<line x1="326.98" y1="484.1" x2="326.98" y2="485.8" stroke="#111" stroke-width="0.8"/>
<line x1="329.075" y1="484.1" x2="329.075" y2="485.8" stroke="#111" stroke-width="0.8"/>
<line x1="331.17" y1="484.1" x2="331.17" y2="485.8" stroke="#111" stroke-width="0.8"/>
<line x1="333.265" y1="484.1" x2="333.265" y2="485.8" stroke="#111" stroke-width="0.8"/>
<line x1="335.36" y1="484.1" x2="335.36" y2="485.8" stroke="#111" stroke-width="0.8"/>
<line x1="337.455" y1="484.1" x2="337.455" y2="485.8" stroke="#111" stroke-width="0.8"/>
<line x1="339.55" y1="484.1" x2="339.55" y2="486.5" stroke="#111" stroke-width="0.8"/>
<line x1="341.645" y1="484.1" x2="341.645" y2="485.8" stroke="#111" stroke-width="0.8"/>
<line x1="343.74" y1="484.1" x2="343.74" y2="485.8" stroke="#111" stroke-width="0.8"/>
<line x1="345.83500000000004" y1="484.1" x2="345.83500000000004" y2="485.8" stroke="#111" stroke-width="0.8"/>
<line x1="347.93" y1="484.1" x2="347.93" y2="485.8" stroke="#111" stroke-width="0.8"/>
<line x1="350.025" y1="484.1" x2="350.025" y2="485.8" stroke="#111" stroke-width="0.8"/>
<line x1="352.12" y1="484.1" x2="352.12" y2="485.8" stroke="#111" stroke-width="0.8"/>
<line x1="354.21500000000003" y1="484.1" x2="354.21500000000003" y2="485.8" stroke="#111" stroke-width="0.8"/>
<line x1="356.31" y1="484.1" x2="356.31" y2="485.8" stroke="#111" stroke-width="0.8"/>
<line x1="358.405" y1="484.1" x2="358.405" y2="485.8" stroke="#111" stroke-width="0.8"/>
<line x1="69.6" y1="500.0" x2="154.1" y2="500.0" stroke="#111" stroke-width="1.3"/>
<line x1="153.6" y1="500.0" x2="153.6" y2="622.6" stroke="#222" stroke-width="1.1"/>
<path d="M69.6,499.3 L69.6,622.6 L154.1,622.6" fill="none" stroke="#111" stroke-width="1.9"/>
<line x1="69.89999999999999" y1="499.3" x2="69.89999999999999" y2="622.6" stroke="#111" stroke-width="2.2"/>
<text x="63.99999999999999" y="634.8000000000001" style="font-family:'Liberation Sans',sans-serif;font-size:8.6px" stroke="#111" textLength="7.1" lengthAdjust="spacingAndGlyphs" stroke-width="0.4">10</text>
<text x="71.6" y="630.2" style="font-family:'Liberation Sans',sans-serif;font-size:6.6px" stroke="#111" textLength="3.6" lengthAdjust="spacingAndGlyphs" stroke-width="0.2">0</text>
<text x="85.0" y="634.8000000000001" style="font-family:'Liberation Sans',sans-serif;font-size:8.6px" stroke="#111" textLength="7.1" lengthAdjust="spacingAndGlyphs" stroke-width="0.4">10</text>
<text x="92.6" y="630.2" style="font-family:'Liberation Sans',sans-serif;font-size:6.6px" stroke="#111" textLength="3.6" lengthAdjust="spacingAndGlyphs" stroke-width="0.2">1</text>
<text x="106.0" y="634.8000000000001" style="font-family:'Liberation Sans',sans-serif;font-size:8.6px" stroke="#111" textLength="7.1" lengthAdjust="spacingAndGlyphs" stroke-width="0.4">10</text>
<text x="113.6" y="630.2" style="font-family:'Liberation Sans',sans-serif;font-size:6.6px" stroke="#111" textLength="3.6" lengthAdjust="spacingAndGlyphs" stroke-width="0.2">2</text>
<text x="127.0" y="634.8000000000001" style="font-family:'Liberation Sans',sans-serif;font-size:8.6px" stroke="#111" textLength="7.1" lengthAdjust="spacingAndGlyphs" stroke-width="0.4">10</text>
<text x="134.6" y="630.2" style="font-family:'Liberation Sans',sans-serif;font-size:6.6px" stroke="#111" textLength="3.6" lengthAdjust="spacingAndGlyphs" stroke-width="0.2">3</text>
<text x="148.0" y="634.8000000000001" style="font-family:'Liberation Sans',sans-serif;font-size:8.6px" stroke="#111" textLength="7.1" lengthAdjust="spacingAndGlyphs" stroke-width="0.4">10</text>
<text x="155.6" y="630.2" style="font-family:'Liberation Sans',sans-serif;font-size:6.6px" stroke="#111" textLength="3.6" lengthAdjust="spacingAndGlyphs" stroke-width="0.2">4</text>
<line x1="69.6" y1="622.6" x2="69.6" y2="625.0" stroke="#111" stroke-width="0.8"/>
<line x1="71.69999999999999" y1="622.6" x2="71.69999999999999" y2="624.3000000000001" stroke="#111" stroke-width="0.8"/>
<line x1="73.8" y1="622.6" x2="73.8" y2="624.3000000000001" stroke="#111" stroke-width="0.8"/>
<line x1="75.89999999999999" y1="622.6" x2="75.89999999999999" y2="624.3000000000001" stroke="#111" stroke-width="0.8"/>
<line x1="78.0" y1="622.6" x2="78.0" y2="624.3000000000001" stroke="#111" stroke-width="0.8"/>
<line x1="80.1" y1="622.6" x2="80.1" y2="624.3000000000001" stroke="#111" stroke-width="0.8"/>
<line x1="82.19999999999999" y1="622.6" x2="82.19999999999999" y2="624.3000000000001" stroke="#111" stroke-width="0.8"/>
<line x1="84.3" y1="622.6" x2="84.3" y2="624.3000000000001" stroke="#111" stroke-width="0.8"/>
<line x1="86.39999999999999" y1="622.6" x2="86.39999999999999" y2="624.3000000000001" stroke="#111" stroke-width="0.8"/>
<line x1="88.5" y1="622.6" x2="88.5" y2="624.3000000000001" stroke="#111" stroke-width="0.8"/>
<line x1="90.6" y1="622.6" x2="90.6" y2="625.0" stroke="#111" stroke-width="0.8"/>
<line x1="92.69999999999999" y1="622.6" x2="92.69999999999999" y2="624.3000000000001" stroke="#111" stroke-width="0.8"/>
<line x1="94.8" y1="622.6" x2="94.8" y2="624.3000000000001" stroke="#111" stroke-width="0.8"/>
<line x1="96.89999999999999" y1="622.6" x2="96.89999999999999" y2="624.3000000000001" stroke="#111" stroke-width="0.8"/>
<line x1="99.0" y1="622.6" x2="99.0" y2="624.3000000000001" stroke="#111" stroke-width="0.8"/>
<line x1="101.1" y1="622.6" x2="101.1" y2="624.3000000000001" stroke="#111" stroke-width="0.8"/>
<line x1="103.19999999999999" y1="622.6" x2="103.19999999999999" y2="624.3000000000001" stroke="#111" stroke-width="0.8"/>
<line x1="105.3" y1="622.6" x2="105.3" y2="624.3000000000001" stroke="#111" stroke-width="0.8"/>
<line x1="107.39999999999999" y1="622.6" x2="107.39999999999999" y2="624.3000000000001" stroke="#111" stroke-width="0.8"/>
<line x1="109.5" y1="622.6" x2="109.5" y2="624.3000000000001" stroke="#111" stroke-width="0.8"/>
<line x1="111.6" y1="622.6" x2="111.6" y2="625.0" stroke="#111" stroke-width="0.8"/>
<line x1="113.69999999999999" y1="622.6" x2="113.69999999999999" y2="624.3000000000001" stroke="#111" stroke-width="0.8"/>
<line x1="115.8" y1="622.6" x2="115.8" y2="624.3000000000001" stroke="#111" stroke-width="0.8"/>
<line x1="117.89999999999999" y1="622.6" x2="117.89999999999999" y2="624.3000000000001" stroke="#111" stroke-width="0.8"/>
<line x1="120.0" y1="622.6" x2="120.0" y2="624.3000000000001" stroke="#111" stroke-width="0.8"/>
<line x1="122.1" y1="622.6" x2="122.1" y2="624.3000000000001" stroke="#111" stroke-width="0.8"/>
<line x1="124.19999999999999" y1="622.6" x2="124.19999999999999" y2="624.3000000000001" stroke="#111" stroke-width="0.8"/>
<line x1="126.3" y1="622.6" x2="126.3" y2="624.3000000000001" stroke="#111" stroke-width="0.8"/>
<line x1="128.39999999999998" y1="622.6" x2="128.39999999999998" y2="624.3000000000001" stroke="#111" stroke-width="0.8"/>
<line x1="130.5" y1="622.6" x2="130.5" y2="624.3000000000001" stroke="#111" stroke-width="0.8"/>
<line x1="132.6" y1="622.6" x2="132.6" y2="625.0" stroke="#111" stroke-width="0.8"/>
<line x1="134.7" y1="622.6" x2="134.7" y2="624.3000000000001" stroke="#111" stroke-width="0.8"/>
<line x1="136.8" y1="622.6" x2="136.8" y2="624.3000000000001" stroke="#111" stroke-width="0.8"/>
<line x1="138.89999999999998" y1="622.6" x2="138.89999999999998" y2="624.3000000000001" stroke="#111" stroke-width="0.8"/>
<line x1="141.0" y1="622.6" x2="141.0" y2="624.3000000000001" stroke="#111" stroke-width="0.8"/>
<line x1="143.1" y1="622.6" x2="143.1" y2="624.3000000000001" stroke="#111" stroke-width="0.8"/>
<line x1="145.2" y1="622.6" x2="145.2" y2="624.3000000000001" stroke="#111" stroke-width="0.8"/>
<line x1="147.3" y1="622.6" x2="147.3" y2="624.3000000000001" stroke="#111" stroke-width="0.8"/>
<line x1="149.39999999999998" y1="622.6" x2="149.39999999999998" y2="624.3000000000001" stroke="#111" stroke-width="0.8"/>
<line x1="151.5" y1="622.6" x2="151.5" y2="624.3000000000001" stroke="#111" stroke-width="0.8"/>
<line x1="174.6" y1="500.4" x2="258.3" y2="500.4" stroke="#111" stroke-width="1.3"/>
<line x1="257.8" y1="500.4" x2="257.8" y2="623.3" stroke="#222" stroke-width="1.1"/>
<path d="M174.6,499.7 L174.6,623.3 L258.3,623.3" fill="none" stroke="#111" stroke-width="1.9"/>
<line x1="174.9" y1="499.7" x2="174.9" y2="623.3" stroke="#111" stroke-width="2.5"/>
<text x="169.0" y="635.5" style="font-family:'Liberation Sans',sans-serif;font-size:8.6px" stroke="#111" textLength="7.1" lengthAdjust="spacingAndGlyphs" stroke-width="0.4">10</text>
<text x="176.6" y="630.9" style="font-family:'Liberation Sans',sans-serif;font-size:6.6px" stroke="#111" textLength="3.6" lengthAdjust="spacingAndGlyphs" stroke-width="0.2">0</text>
<text x="189.8" y="635.5" style="font-family:'Liberation Sans',sans-serif;font-size:8.6px" stroke="#111" textLength="7.1" lengthAdjust="spacingAndGlyphs" stroke-width="0.4">10</text>
<text x="197.4" y="630.9" style="font-family:'Liberation Sans',sans-serif;font-size:6.6px" stroke="#111" textLength="3.6" lengthAdjust="spacingAndGlyphs" stroke-width="0.2">1</text>
<text x="210.60000000000002" y="635.5" style="font-family:'Liberation Sans',sans-serif;font-size:8.6px" stroke="#111" textLength="7.1" lengthAdjust="spacingAndGlyphs" stroke-width="0.4">10</text>
<text x="218.20000000000002" y="630.9" style="font-family:'Liberation Sans',sans-serif;font-size:6.6px" stroke="#111" textLength="3.6" lengthAdjust="spacingAndGlyphs" stroke-width="0.2">2</text>
<text x="231.4" y="635.5" style="font-family:'Liberation Sans',sans-serif;font-size:8.6px" stroke="#111" textLength="7.1" lengthAdjust="spacingAndGlyphs" stroke-width="0.4">10</text>
<text x="239.0" y="630.9" style="font-family:'Liberation Sans',sans-serif;font-size:6.6px" stroke="#111" textLength="3.6" lengthAdjust="spacingAndGlyphs" stroke-width="0.2">3</text>
<text x="252.20000000000002" y="635.5" style="font-family:'Liberation Sans',sans-serif;font-size:8.6px" stroke="#111" textLength="7.1" lengthAdjust="spacingAndGlyphs" stroke-width="0.4">10</text>
<text x="259.8" y="630.9" style="font-family:'Liberation Sans',sans-serif;font-size:6.6px" stroke="#111" textLength="3.6" lengthAdjust="spacingAndGlyphs" stroke-width="0.2">4</text>
<line x1="174.6" y1="623.3" x2="174.6" y2="625.6999999999999" stroke="#111" stroke-width="0.8"/>
<line x1="176.68" y1="623.3" x2="176.68" y2="625.0" stroke="#111" stroke-width="0.8"/>
<line x1="178.76" y1="623.3" x2="178.76" y2="625.0" stroke="#111" stroke-width="0.8"/>
<line x1="180.84" y1="623.3" x2="180.84" y2="625.0" stroke="#111" stroke-width="0.8"/>
<line x1="182.92" y1="623.3" x2="182.92" y2="625.0" stroke="#111" stroke-width="0.8"/>
<line x1="185.0" y1="623.3" x2="185.0" y2="625.0" stroke="#111" stroke-width="0.8"/>
<line x1="187.07999999999998" y1="623.3" x2="187.07999999999998" y2="625.0" stroke="#111" stroke-width="0.8"/>
<line x1="189.16" y1="623.3" x2="189.16" y2="625.0" stroke="#111" stroke-width="0.8"/>
<line x1="191.24" y1="623.3" x2="191.24" y2="625.0" stroke="#111" stroke-width="0.8"/>
<line x1="193.32" y1="623.3" x2="193.32" y2="625.0" stroke="#111" stroke-width="0.8"/>
<line x1="195.4" y1="623.3" x2="195.4" y2="625.6999999999999" stroke="#111" stroke-width="0.8"/>
<line x1="197.48" y1="623.3" x2="197.48" y2="625.0" stroke="#111" stroke-width="0.8"/>
<line x1="199.56" y1="623.3" x2="199.56" y2="625.0" stroke="#111" stroke-width="0.8"/>
<line x1="201.64" y1="623.3" x2="201.64" y2="625.0" stroke="#111" stroke-width="0.8"/>
<line x1="203.72" y1="623.3" x2="203.72" y2="625.0" stroke="#111" stroke-width="0.8"/>
<line x1="205.8" y1="623.3" x2="205.8" y2="625.0" stroke="#111" stroke-width="0.8"/>
<line x1="207.88" y1="623.3" x2="207.88" y2="625.0" stroke="#111" stroke-width="0.8"/>
<line x1="209.96" y1="623.3" x2="209.96" y2="625.0" stroke="#111" stroke-width="0.8"/>
<line x1="212.04000000000002" y1="623.3" x2="212.04000000000002" y2="625.0" stroke="#111" stroke-width="0.8"/>
<line x1="214.12" y1="623.3" x2="214.12" y2="625.0" stroke="#111" stroke-width="0.8"/>
<line x1="216.2" y1="623.3" x2="216.2" y2="625.6999999999999" stroke="#111" stroke-width="0.8"/>
<line x1="218.28" y1="623.3" x2="218.28" y2="625.0" stroke="#111" stroke-width="0.8"/>
<line x1="220.36" y1="623.3" x2="220.36" y2="625.0" stroke="#111" stroke-width="0.8"/>
<line x1="222.44" y1="623.3" x2="222.44" y2="625.0" stroke="#111" stroke-width="0.8"/>
<line x1="224.52" y1="623.3" x2="224.52" y2="625.0" stroke="#111" stroke-width="0.8"/>
<line x1="226.60000000000002" y1="623.3" x2="226.60000000000002" y2="625.0" stroke="#111" stroke-width="0.8"/>
<line x1="228.68" y1="623.3" x2="228.68" y2="625.0" stroke="#111" stroke-width="0.8"/>
<line x1="230.76" y1="623.3" x2="230.76" y2="625.0" stroke="#111" stroke-width="0.8"/>
<line x1="232.84" y1="623.3" x2="232.84" y2="625.0" stroke="#111" stroke-width="0.8"/>
<line x1="234.92000000000002" y1="623.3" x2="234.92000000000002" y2="625.0" stroke="#111" stroke-width="0.8"/>
<line x1="237.0" y1="623.3" x2="237.0" y2="625.6999999999999" stroke="#111" stroke-width="0.8"/>
<line x1="239.08" y1="623.3" x2="239.08" y2="625.0" stroke="#111" stroke-width="0.8"/>
<line x1="241.16000000000003" y1="623.3" x2="241.16000000000003" y2="625.0" stroke="#111" stroke-width="0.8"/>
<line x1="243.24" y1="623.3" x2="243.24" y2="625.0" stroke="#111" stroke-width="0.8"/>
<line x1="245.32" y1="623.3" x2="245.32" y2="625.0" stroke="#111" stroke-width="0.8"/>
<line x1="247.4" y1="623.3" x2="247.4" y2="625.0" stroke="#111" stroke-width="0.8"/>
<line x1="249.48000000000002" y1="623.3" x2="249.48000000000002" y2="625.0" stroke="#111" stroke-width="0.8"/>
<line x1="251.56" y1="623.3" x2="251.56" y2="625.0" stroke="#111" stroke-width="0.8"/>
<line x1="253.64000000000001" y1="623.3" x2="253.64000000000001" y2="625.0" stroke="#111" stroke-width="0.8"/>
<line x1="255.72000000000003" y1="623.3" x2="255.72000000000003" y2="625.0" stroke="#111" stroke-width="0.8"/>
<line x1="276.3" y1="500.3" x2="360.5" y2="500.3" stroke="#111" stroke-width="1.3"/>
<line x1="360.0" y1="500.3" x2="360.0" y2="623.6" stroke="#222" stroke-width="1.1"/>
<path d="M276.3,499.6 L276.3,623.6 L360.5,623.6" fill="none" stroke="#111" stroke-width="1.9"/>
<line x1="276.6" y1="499.6" x2="276.6" y2="623.6" stroke="#111" stroke-width="1.4"/>
<text x="270.7" y="635.8000000000001" style="font-family:'Liberation Sans',sans-serif;font-size:8.6px" stroke="#111" textLength="7.1" lengthAdjust="spacingAndGlyphs" stroke-width="0.4">10</text>
<text x="278.3" y="631.2" style="font-family:'Liberation Sans',sans-serif;font-size:6.6px" stroke="#111" textLength="3.6" lengthAdjust="spacingAndGlyphs" stroke-width="0.2">0</text>
<text x="291.625" y="635.8000000000001" style="font-family:'Liberation Sans',sans-serif;font-size:8.6px" stroke="#111" textLength="7.1" lengthAdjust="spacingAndGlyphs" stroke-width="0.4">10</text>
<text x="299.225" y="631.2" style="font-family:'Liberation Sans',sans-serif;font-size:6.6px" stroke="#111" textLength="3.6" lengthAdjust="spacingAndGlyphs" stroke-width="0.2">1</text>
<text x="312.54999999999995" y="635.8000000000001" style="font-family:'Liberation Sans',sans-serif;font-size:8.6px" stroke="#111" textLength="7.1" lengthAdjust="spacingAndGlyphs" stroke-width="0.4">10</text>
<text x="320.15" y="631.2" style="font-family:'Liberation Sans',sans-serif;font-size:6.6px" stroke="#111" textLength="3.6" lengthAdjust="spacingAndGlyphs" stroke-width="0.2">2</text>
<text x="333.47499999999997" y="635.8000000000001" style="font-family:'Liberation Sans',sans-serif;font-size:8.6px" stroke="#111" textLength="7.1" lengthAdjust="spacingAndGlyphs" stroke-width="0.4">10</text>
<text x="341.075" y="631.2" style="font-family:'Liberation Sans',sans-serif;font-size:6.6px" stroke="#111" textLength="3.6" lengthAdjust="spacingAndGlyphs" stroke-width="0.2">3</text>
<text x="354.4" y="635.8000000000001" style="font-family:'Liberation Sans',sans-serif;font-size:8.6px" stroke="#111" textLength="7.1" lengthAdjust="spacingAndGlyphs" stroke-width="0.4">10</text>
<text x="362.0" y="631.2" style="font-family:'Liberation Sans',sans-serif;font-size:6.6px" stroke="#111" textLength="3.6" lengthAdjust="spacingAndGlyphs" stroke-width="0.2">4</text>
<line x1="276.3" y1="623.6" x2="276.3" y2="626.0" stroke="#111" stroke-width="0.8"/>
<line x1="278.3925" y1="623.6" x2="278.3925" y2="625.3000000000001" stroke="#111" stroke-width="0.8"/>
<line x1="280.485" y1="623.6" x2="280.485" y2="625.3000000000001" stroke="#111" stroke-width="0.8"/>
<line x1="282.5775" y1="623.6" x2="282.5775" y2="625.3000000000001" stroke="#111" stroke-width="0.8"/>
<line x1="284.67" y1="623.6" x2="284.67" y2="625.3000000000001" stroke="#111" stroke-width="0.8"/>
<line x1="286.7625" y1="623.6" x2="286.7625" y2="625.3000000000001" stroke="#111" stroke-width="0.8"/>
<line x1="288.855" y1="623.6" x2="288.855" y2="625.3000000000001" stroke="#111" stroke-width="0.8"/>
<line x1="290.9475" y1="623.6" x2="290.9475" y2="625.3000000000001" stroke="#111" stroke-width="0.8"/>
<line x1="293.04" y1="623.6" x2="293.04" y2="625.3000000000001" stroke="#111" stroke-width="0.8"/>
<line x1="295.1325" y1="623.6" x2="295.1325" y2="625.3000000000001" stroke="#111" stroke-width="0.8"/>
<line x1="297.225" y1="623.6" x2="297.225" y2="626.0" stroke="#111" stroke-width="0.8"/>
<line x1="299.3175" y1="623.6" x2="299.3175" y2="625.3000000000001" stroke="#111" stroke-width="0.8"/>
<line x1="301.41" y1="623.6" x2="301.41" y2="625.3000000000001" stroke="#111" stroke-width="0.8"/>
<line x1="303.5025" y1="623.6" x2="303.5025" y2="625.3000000000001" stroke="#111" stroke-width="0.8"/>
<line x1="305.595" y1="623.6" x2="305.595" y2="625.3000000000001" stroke="#111" stroke-width="0.8"/>
<line x1="307.6875" y1="623.6" x2="307.6875" y2="625.3000000000001" stroke="#111" stroke-width="0.8"/>
<line x1="309.78000000000003" y1="623.6" x2="309.78000000000003" y2="625.3000000000001" stroke="#111" stroke-width="0.8"/>
<line x1="311.8725" y1="623.6" x2="311.8725" y2="625.3000000000001" stroke="#111" stroke-width="0.8"/>
<line x1="313.96500000000003" y1="623.6" x2="313.96500000000003" y2="625.3000000000001" stroke="#111" stroke-width="0.8"/>
<line x1="316.0575" y1="623.6" x2="316.0575" y2="625.3000000000001" stroke="#111" stroke-width="0.8"/>
<line x1="318.15" y1="623.6" x2="318.15" y2="626.0" stroke="#111" stroke-width="0.8"/>
<line x1="320.2425" y1="623.6" x2="320.2425" y2="625.3000000000001" stroke="#111" stroke-width="0.8"/>
<line x1="322.335" y1="623.6" x2="322.335" y2="625.3000000000001" stroke="#111" stroke-width="0.8"/>
<line x1="324.4275" y1="623.6" x2="324.4275" y2="625.3000000000001" stroke="#111" stroke-width="0.8"/>
<line x1="326.52" y1="623.6" x2="326.52" y2="625.3000000000001" stroke="#111" stroke-width="0.8"/>
<line x1="328.6125" y1="623.6" x2="328.6125" y2="625.3000000000001" stroke="#111" stroke-width="0.8"/>
<line x1="330.705" y1="623.6" x2="330.705" y2="625.3000000000001" stroke="#111" stroke-width="0.8"/>
<line x1="332.7975" y1="623.6" x2="332.7975" y2="625.3000000000001" stroke="#111" stroke-width="0.8"/>
<line x1="334.89" y1="623.6" x2="334.89" y2="625.3000000000001" stroke="#111" stroke-width="0.8"/>
<line x1="336.9825" y1="623.6" x2="336.9825" y2="625.3000000000001" stroke="#111" stroke-width="0.8"/>
<line x1="339.075" y1="623.6" x2="339.075" y2="626.0" stroke="#111" stroke-width="0.8"/>
<line x1="341.1675" y1="623.6" x2="341.1675" y2="625.3000000000001" stroke="#111" stroke-width="0.8"/>
<line x1="343.26" y1="623.6" x2="343.26" y2="625.3000000000001" stroke="#111" stroke-width="0.8"/>
<line x1="345.35249999999996" y1="623.6" x2="345.35249999999996" y2="625.3000000000001" stroke="#111" stroke-width="0.8"/>
<line x1="347.445" y1="623.6" x2="347.445" y2="625.3000000000001" stroke="#111" stroke-width="0.8"/>
<line x1="349.5375" y1="623.6" x2="349.5375" y2="625.3000000000001" stroke="#111" stroke-width="0.8"/>
<line x1="351.63" y1="623.6" x2="351.63" y2="625.3000000000001" stroke="#111" stroke-width="0.8"/>
<line x1="353.72249999999997" y1="623.6" x2="353.72249999999997" y2="625.3000000000001" stroke="#111" stroke-width="0.8"/>
<line x1="355.815" y1="623.6" x2="355.815" y2="625.3000000000001" stroke="#111" stroke-width="0.8"/>
<line x1="357.9075" y1="623.6" x2="357.9075" y2="625.3000000000001" stroke="#111" stroke-width="0.8"/>
<line x1="422.5" y1="397.7" x2="513.9" y2="397.7" stroke="#111" stroke-width="1.3"/>
<line x1="513.4" y1="397.7" x2="513.4" y2="520.3" stroke="#222" stroke-width="1.1"/>
<path d="M422.5,397.0 L422.5,520.3 L513.9,520.3" fill="none" stroke="#111" stroke-width="1.9"/>
<line x1="422.8" y1="397.0" x2="422.8" y2="520.3" stroke="#111" stroke-width="2.2"/>
<text x="416.9" y="532.5" style="font-family:'Liberation Sans',sans-serif;font-size:8.6px" stroke="#111" textLength="7.1" lengthAdjust="spacingAndGlyphs" stroke-width="0.4">10</text>
<text x="424.5" y="527.9" style="font-family:'Liberation Sans',sans-serif;font-size:6.6px" stroke="#111" textLength="3.6" lengthAdjust="spacingAndGlyphs" stroke-width="0.2">0</text>
<text x="439.625" y="532.5" style="font-family:'Liberation Sans',sans-serif;font-size:8.6px" stroke="#111" textLength="7.1" lengthAdjust="spacingAndGlyphs" stroke-width="0.4">10</text>
<text x="447.225" y="527.9" style="font-family:'Liberation Sans',sans-serif;font-size:6.6px" stroke="#111" textLength="3.6" lengthAdjust="spacingAndGlyphs" stroke-width="0.2">1</text>
<text x="462.34999999999997" y="532.5" style="font-family:'Liberation Sans',sans-serif;font-size:8.6px" stroke="#111" textLength="7.1" lengthAdjust="spacingAndGlyphs" stroke-width="0.4">10</text>
<text x="469.95" y="527.9" style="font-family:'Liberation Sans',sans-serif;font-size:6.6px" stroke="#111" textLength="3.6" lengthAdjust="spacingAndGlyphs" stroke-width="0.2">2</text>
<text x="485.07499999999993" y="532.5" style="font-family:'Liberation Sans',sans-serif;font-size:8.6px" stroke="#111" textLength="7.1" lengthAdjust="spacingAndGlyphs" stroke-width="0.4">10</text>
<text x="492.67499999999995" y="527.9" style="font-family:'Liberation Sans',sans-serif;font-size:6.6px" stroke="#111" textLength="3.6" lengthAdjust="spacingAndGlyphs" stroke-width="0.2">3</text>
<text x="507.79999999999995" y="532.5" style="font-family:'Liberation Sans',sans-serif;font-size:8.6px" stroke="#111" textLength="7.1" lengthAdjust="spacingAndGlyphs" stroke-width="0.4">10</text>
<text x="515.4" y="527.9" style="font-family:'Liberation Sans',sans-serif;font-size:6.6px" stroke="#111" textLength="3.6" lengthAdjust="spacingAndGlyphs" stroke-width="0.2">4</text>
<line x1="422.5" y1="520.3" x2="422.5" y2="522.6999999999999" stroke="#111" stroke-width="0.8"/>
<line x1="424.7725" y1="520.3" x2="424.7725" y2="522.0" stroke="#111" stroke-width="0.8"/>
<line x1="427.045" y1="520.3" x2="427.045" y2="522.0" stroke="#111" stroke-width="0.8"/>
<line x1="429.3175" y1="520.3" x2="429.3175" y2="522.0" stroke="#111" stroke-width="0.8"/>
<line x1="431.59" y1="520.3" x2="431.59" y2="522.0" stroke="#111" stroke-width="0.8"/>
<line x1="433.8625" y1="520.3" x2="433.8625" y2="522.0" stroke="#111" stroke-width="0.8"/>
<line x1="436.135" y1="520.3" x2="436.135" y2="522.0" stroke="#111" stroke-width="0.8"/>
<line x1="438.40749999999997" y1="520.3" x2="438.40749999999997" y2="522.0" stroke="#111" stroke-width="0.8"/>
<line x1="440.68" y1="520.3" x2="440.68" y2="522.0" stroke="#111" stroke-width="0.8"/>
<line x1="442.9525" y1="520.3" x2="442.9525" y2="522.0" stroke="#111" stroke-width="0.8"/>
<line x1="445.225" y1="520.3" x2="445.225" y2="522.6999999999999" stroke="#111" stroke-width="0.8"/>
<line x1="447.4975" y1="520.3" x2="447.4975" y2="522.0" stroke="#111" stroke-width="0.8"/>
<line x1="449.77" y1="520.3" x2="449.77" y2="522.0" stroke="#111" stroke-width="0.8"/>
<line x1="452.0425" y1="520.3" x2="452.0425" y2="522.0" stroke="#111" stroke-width="0.8"/>
<line x1="454.315" y1="520.3" x2="454.315" y2="522.0" stroke="#111" stroke-width="0.8"/>
<line x1="456.5875" y1="520.3" x2="456.5875" y2="522.0" stroke="#111" stroke-width="0.8"/>
<line x1="458.86" y1="520.3" x2="458.86" y2="522.0" stroke="#111" stroke-width="0.8"/>
<line x1="461.1325" y1="520.3" x2="461.1325" y2="522.0" stroke="#111" stroke-width="0.8"/>
<line x1="463.405" y1="520.3" x2="463.405" y2="522.0" stroke="#111" stroke-width="0.8"/>
<line x1="465.6775" y1="520.3" x2="465.6775" y2="522.0" stroke="#111" stroke-width="0.8"/>
<line x1="467.95" y1="520.3" x2="467.95" y2="522.6999999999999" stroke="#111" stroke-width="0.8"/>
<line x1="470.22249999999997" y1="520.3" x2="470.22249999999997" y2="522.0" stroke="#111" stroke-width="0.8"/>
<line x1="472.495" y1="520.3" x2="472.495" y2="522.0" stroke="#111" stroke-width="0.8"/>
<line x1="474.7675" y1="520.3" x2="474.7675" y2="522.0" stroke="#111" stroke-width="0.8"/>
<line x1="477.03999999999996" y1="520.3" x2="477.03999999999996" y2="522.0" stroke="#111" stroke-width="0.8"/>
<line x1="479.3125" y1="520.3" x2="479.3125" y2="522.0" stroke="#111" stroke-width="0.8"/>
<line x1="481.585" y1="520.3" x2="481.585" y2="522.0" stroke="#111" stroke-width="0.8"/>
<line x1="483.85749999999996" y1="520.3" x2="483.85749999999996" y2="522.0" stroke="#111" stroke-width="0.8"/>
<line x1="486.13" y1="520.3" x2="486.13" y2="522.0" stroke="#111" stroke-width="0.8"/>
<line x1="488.4025" y1="520.3" x2="488.4025" y2="522.0" stroke="#111" stroke-width="0.8"/>
<line x1="490.67499999999995" y1="520.3" x2="490.67499999999995" y2="522.6999999999999" stroke="#111" stroke-width="0.8"/>
<line x1="492.9475" y1="520.3" x2="492.9475" y2="522.0" stroke="#111" stroke-width="0.8"/>
<line x1="495.21999999999997" y1="520.3" x2="495.21999999999997" y2="522.0" stroke="#111" stroke-width="0.8"/>
<line x1="497.49249999999995" y1="520.3" x2="497.49249999999995" y2="522.0" stroke="#111" stroke-width="0.8"/>
<line x1="499.765" y1="520.3" x2="499.765" y2="522.0" stroke="#111" stroke-width="0.8"/>
<line x1="502.03749999999997" y1="520.3" x2="502.03749999999997" y2="522.0" stroke="#111" stroke-width="0.8"/>
<line x1="504.30999999999995" y1="520.3" x2="504.30999999999995" y2="522.0" stroke="#111" stroke-width="0.8"/>
<line x1="506.5825" y1="520.3" x2="506.5825" y2="522.0" stroke="#111" stroke-width="0.8"/>
<line x1="508.85499999999996" y1="520.3" x2="508.85499999999996" y2="522.0" stroke="#111" stroke-width="0.8"/>
<line x1="511.12749999999994" y1="520.3" x2="511.12749999999994" y2="522.0" stroke="#111" stroke-width="0.8"/>
<polyline points="70.8,396.0 70.5,397.0 70.7,398.0 71.0,398.1 70.3,400.2 70.6,400.2 71.6,401.5 71.4,402.4 71.2,402.8 71.2,404.9 71.1,405.6 71.3,405.5 71.5,407.2 70.9,407.2 71.6,408.9 71.5,410.5 71.5,411.4 71.1,412.2 71.2,413.3 71.8,412.9 70.9,414.0 72.0,415.3 71.6,416.0 71.4,417.0 71.3,418.3 71.6,419.7 71.7,420.7 72.0,421.7 71.8,421.3 72.1,423.5 72.2,423.8 72.0,424.1 72.2,425.6 71.5,425.7 72.3,428.1 71.3,428.8 71.8,428.6 71.7,430.6 72.5,430.3 72.2,431.2 72.3,432.6 72.6,434.6 72.1,435.5 71.9,435.0 72.3,435.8 71.9,437.3 72.4,437.8 71.8,439.9 72.1,441.0 72.9,441.0 72.4,442.1 72.7,443.2 72.7,442.3 73.2,441.2 72.7,440.6 72.5,439.0 73.5,438.5 73.1,436.7 73.0,436.7 72.6,435.9 73.4,434.0 73.5,433.8 73.6,432.7 73.8,432.4 73.0,430.4 73.9,430.9 73.5,429.1 74.0,428.0 73.8,427.0 73.9,426.6 73.9,425.3 74.6,423.8 74.4,424.0 74.2,422.2 74.9,421.3 74.2,420.7 75.0,419.2 74.6,418.7 75.3,417.9 75.6,416.5 75.2,416.3 76.1,415.1 75.5,413.6 76.1,412.7 76.7,412.8 76.1,411.0 77.2,410.6 77.4,409.2 76.8,408.2 77.8,407.2 77.5,406.5 77.8,405.6 78.7,404.3 77.8,404.7 79.1,403.8 78.8,402.8 79.7,400.8 79.7,400.8 79.8,399.4 79.5,398.2 79.6,396.8 80.2,396.2 80.7,394.8 81.0,394.9 81.2,394.3 81.3,392.8 80.4,392.1 80.8,390.5 81.6,389.9 81.4,389.6 81.8,387.6 81.7,387.4 82.2,386.3 82.3,384.3 82.8,383.7" fill="none" stroke="#111" stroke-width="2.8" stroke-linejoin="round"/>
<polyline points="82.8,383.7 83.7,383.3 84.1,382.4 85.5,381.4 85.9,379.3 86.0,379.6 85.6,377.9 86.2,377.4 86.7,376.5 87.2,376.7 86.5,377.9 86.6,378.7 87.6,380.8 86.7,381.2 87.1,381.9 87.2,383.3 87.5,383.9 87.2,384.8 87.1,386.1 87.8,386.8 87.2,387.5 87.5,389.0 88.0,389.7 88.1,391.0 87.7,391.6 87.9,393.1 87.8,394.0 87.9,394.4 88.0,396.0 87.6,396.5 88.1,398.1 88.8,398.3 88.8,399.8 88.2,400.3 88.1,401.7 88.8,402.7 89.1,403.4 89.1,404.2 88.5,405.1 88.5,405.4 89.4,406.2 88.8,407.2 89.7,408.3 88.9,410.1 89.1,411.1 89.8,412.0 90.2,412.5 90.2,412.6 90.2,414.2 90.3,414.5 90.5,416.6 89.8,416.6 90.5,418.2 90.2,418.2 90.3,419.7 91.0,420.3 90.7,421.2 90.8,422.1 90.6,423.1 91.7,423.9 91.5,424.4 91.5,426.2 91.5,426.7 91.4,427.8 91.9,428.0 91.0,429.8 92.0,430.4 91.5,431.5 91.3,431.8 91.3,433.2 91.5,433.6 92.0,435.5 91.6,436.0 91.8,437.2 92.0,437.2 91.6,437.8 92.0,439.2 91.7,440.1 91.9,441.6 91.8,442.8 92.2,443.1 92.2,444.4 92.6,444.9 92.3,446.1 92.7,446.5 92.6,448.3 92.4,448.2 92.2,449.8 92.7,451.0 92.9,450.9 92.2,451.9 92.2,453.4 93.0,454.6 92.4,455.5 92.5,455.8 93.0,456.2 92.3,458.2 92.6,458.5 92.9,459.8 92.3,460.3 92.8,461.4 92.6,462.5 93.5,463.1 93.1,463.7 92.8,465.3 92.7,466.6 93.6,466.4 93.7,467.7 93.5,469.2 93.3,470.0 93.9,471.2 93.8,472.1 94.8,473.0 94.6,473.2 95.2,474.3 96.1,475.5 96.6,475.7 97.4,477.1 97.5,478.2 98.7,478.0 99.9,478.2 100.1,479.3 101.4,479.3 102.3,479.4 102.9,479.3 103.5,480.3 105.3,480.1 106.2,479.9 106.7,480.0 108.3,479.6 108.9,479.9 110.2,480.1 110.7,480.2 111.9,480.8 112.7,480.9 113.4,480.2 114.4,480.1 116.2,481.2 116.5,480.6 117.8,481.5 119.3,481.7 120.1,481.0 120.8,481.1 121.8,481.6 122.4,481.2 123.9,481.0 124.9,482.2 126.0,481.5 126.4,481.8 127.4,482.4 128.4,481.5 129.5,481.7 130.1,482.1 130.3,482.2 132.0,481.8 132.7,481.8 133.3,481.9 134.0,481.9 135.6,481.9 136.4,482.6 137.7,481.5 138.5,482.2 138.6,481.9 139.7,481.5 140.9,482.7 141.6,482.7 142.9,481.7 144.0,482.3 145.0,482.5 145.7,482.0 146.7,482.9 147.6,482.2 148.4,482.3 148.6,481.7 149.5,482.0 150.5,482.4 152.0,482.5 152.6,482.7 153.6,482.5" fill="none" stroke="#111" stroke-width="2.1" stroke-linejoin="round"/>
<polyline points="73.5,428.0 73.5,427.1 73.9,426.1 73.7,425.6 74.1,424.3 74.0,423.5 74.3,422.4 74.1,421.5 74.7,420.5 74.6,419.7 74.6,418.7 74.8,417.8 74.7,416.9 74.9,416.3 75.0,415.0 75.3,414.4 75.6,413.2 75.6,412.6 75.4,412.2 75.7,410.6 76.0,409.7 76.2,409.0 76.0,407.8 76.6,407.1 76.8,406.4 77.0,405.3 76.7,404.4 77.2,403.8 77.0,402.4 77.4,402.2 77.5,400.6 77.3,399.7 77.5,398.8 77.6,398.4 78.3,397.1 78.4,396.4 78.5,395.9 78.7,394.2 78.4,393.8 79.0,392.5 78.7,392.2 78.8,390.9 79.2,390.3 80.0,389.1 80.2,388.7 80.6,387.7 81.0,386.7 81.0,385.7 81.6,385.1 81.6,384.0 82.2,383.5 83.6,382.9 83.5,383.6 83.7,384.5 83.6,386.0 83.8,386.4 83.6,387.9 83.9,388.8 84.1,389.4 84.2,390.5 83.9,391.2 83.8,392.1 84.4,392.8 84.2,393.7 84.0,395.1 84.1,395.5 84.1,396.9 84.5,397.3 84.3,399.0 84.3,399.6 84.5,400.7 84.7,401.6 84.7,402.1 84.5,402.9 85.0,403.9 84.5,405.5 84.7,406.3 84.7,406.9 84.8,408.2 85.1,409.0 85.3,410.1 85.1,410.9 85.2,411.4 85.5,412.8 85.5,413.4 85.4,414.6 85.5,415.2 85.3,416.4 85.1,417.4 85.6,418.2 85.5,419.3 85.2,420.0 85.7,420.9 85.4,421.7 85.4,422.7 86.0,424.0 86.2,425.2 86.2,426.1 86.3,426.6 86.8,427.9 86.9,428.5 87.0,429.4 87.3,430.7 87.0,431.6 87.1,431.9 87.6,432.9 87.6,434.1 87.4,435.1 87.7,435.7 87.9,436.9 88.3,437.4 88.1,438.4 88.4,439.1 88.4,440.6 88.9,441.6 89.3,442.5 89.1,442.8 89.2,444.0 89.3,445.0 89.3,446.3 89.2,447.0 89.6,448.2 89.3,448.8 89.6,449.6 89.2,451.0 89.5,451.7 89.5,452.7 90.2,453.8 90.6,454.9 90.9,455.2 90.6,456.1 91.1,457.3 91.1,458.3 91.4,459.0 91.8,460.3 92.1,460.8 92.3,461.8 93.0,462.9 93.5,463.8 93.4,464.1 94.1,465.5 94.3,466.4 94.7,466.8 94.8,467.5 95.4,469.0 96.0,469.5 96.2,470.8 96.6,471.4 96.7,472.2 96.9,472.7 98.2,473.1 99.0,472.4 99.9,472.1 101.1,471.9 102.1,471.3 102.7,471.4 103.7,471.4 104.9,471.1 105.4,471.1 106.0,472.2 106.5,472.7 107.3,473.9 107.5,474.4 108.3,474.9 109.3,476.0 110.1,475.6 111.3,475.7 111.8,476.7 112.6,476.8 113.8,477.8 114.3,477.8 115.1,478.1 115.9,479.2 116.7,479.1 117.6,479.4 118.7,480.4 119.7,480.8 120.7,480.4 121.3,481.3 122.1,480.9 123.3,481.0 124.3,480.9 125.1,481.8 126.0,481.9 126.9,482.0 128.2,481.9 128.8,481.5 130.0,482.0" fill="none" stroke="#262626" stroke-width="1.3" stroke-linejoin="round" stroke-dasharray="2.4,2.0"/>
<polygon points="184.6,387.5 188.3,386.5 188.7,378.5 190.3,378.5 190.8,386.5 193.3,387.5 193.2,399.5 190.6,400.5 189.4,398.0 187.8,404.0 184.6,404.0" fill="#111" stroke="#111" stroke-width="0.8" stroke-linejoin="round"/>
<polygon points="176.5,396.0 178.6,400.0 179.4,418.0 181.5,430.0 181.0,437.5 177.5,437.5" fill="#111" stroke="#111" stroke-width="0.8" stroke-linejoin="round"/>
<polyline points="176.8,396.0 177.1,396.5 176.6,398.3 177.4,398.1 177.5,399.7 177.0,400.0 177.0,402.1 177.0,401.8 176.9,402.7 177.1,404.7 176.9,404.6 177.9,406.6 178.0,406.5 177.4,408.4 177.6,409.0 177.4,408.9 177.5,410.8 178.1,411.5 177.8,412.3 177.8,413.2 178.3,413.7 178.1,415.6 178.5,415.5 178.7,417.3 177.9,417.5 178.0,418.1 178.9,419.5 178.9,420.0 178.0,422.0 179.0,423.1 179.0,423.4 179.1,423.7 179.0,425.1 178.6,426.3 178.9,427.0 179.0,427.7 179.1,429.0 179.9,430.4 179.8,431.2 179.2,432.3 179.3,432.1 179.7,433.8 179.6,434.7 179.6,436.0 179.8,436.3 180.0,435.9 180.6,434.5 180.1,433.6 179.8,432.4 180.7,432.0 180.0,431.1 180.4,430.4 180.5,428.4 180.8,428.4 180.7,427.4 181.1,425.7 180.8,425.0 181.0,423.9 181.4,423.7 181.4,421.8 181.1,421.2 181.6,419.9 181.1,419.3 181.5,418.0 181.8,418.3 181.9,417.2 182.4,416.4 182.6,414.9 182.4,413.5 182.7,412.9 182.3,412.7 182.2,410.8 182.9,410.4 182.2,408.7 182.6,407.7 183.2,407.0 182.7,406.4 183.0,405.5 183.3,404.9 183.1,403.1 183.8,403.0 182.9,401.8 183.7,401.6 183.0,399.3 183.5,399.0 184.1,398.6 183.5,397.1 183.9,396.8 183.5,395.2 183.4,394.7 183.4,394.2 184.1,392.7 183.7,391.3 184.2,391.3 184.3,389.5 184.9,389.1 184.4,387.6 185.2,388.1 186.1,387.0 186.9,385.9 187.3,385.8 187.6,384.6 187.1,382.8 187.6,382.2 187.6,382.1 187.9,381.2 188.9,379.3 189.1,378.8 188.6,377.6 188.5,379.0 189.0,380.5 189.7,380.4 189.3,381.8 189.2,382.7 189.5,384.3 189.7,384.5 189.7,385.9 190.9,386.0 191.9,386.4 192.7,387.3 192.9,387.9 193.2,388.5 193.5,389.6 193.3,389.8 193.7,391.8 193.4,392.4 193.2,393.8 193.7,393.8 193.8,395.9 193.3,396.8 193.5,396.7 193.8,397.9 193.8,399.2 193.2,400.0 194.0,400.9 193.7,402.4 193.6,402.8 193.7,404.2 193.3,404.1 194.0,405.7 193.5,407.1 194.1,407.5 194.3,408.9 194.0,409.0 193.2,410.5 194.0,411.0 193.7,412.2 193.5,413.3 193.9,413.8 193.5,415.0 193.9,416.2 193.9,416.7 194.1,417.6 194.7,418.2 194.3,419.6 194.7,420.6 194.8,421.0 195.3,423.1 195.8,423.4 195.4,423.7 195.4,425.0 196.2,425.7 196.4,427.1 195.9,427.7 196.6,428.5 196.3,429.9 196.0,430.5 197.0,432.2 196.9,433.3 196.3,433.9 197.2,434.2 197.0,436.2 196.9,436.8 196.9,437.6 197.1,438.4 197.3,439.8 197.9,440.3 197.9,441.1 198.2,441.8 198.0,443.3 197.9,443.5 197.8,445.2 198.0,446.4 198.4,447.5 198.9,448.1 198.5,448.0 198.8,449.9 199.3,450.1 198.6,452.0 199.4,452.2 199.5,452.7 199.4,454.3 199.5,454.5 199.1,456.0 200.1,456.2 199.2,457.0 200.2,458.4 199.9,460.1 200.2,460.0 200.4,460.5 200.1,462.4 200.1,462.4 200.6,463.7 201.2,464.3 201.1,465.6 201.2,466.6 201.2,467.4 200.8,468.5 201.5,469.2 201.0,470.3 201.0,471.0 201.6,472.3 201.8,472.8 201.2,473.4 201.7,474.5 202.1,475.6 202.4,476.9 203.3,477.4 204.1,477.2 204.8,477.0 206.3,477.9 206.5,478.8 208.0,478.6 208.8,478.2 210.4,478.5 210.6,479.8 211.2,479.4 212.5,479.2 213.9,479.7 213.8,480.0 214.6,480.6 216.5,481.1 216.5,481.0 217.7,480.9 218.6,480.9 219.3,481.6 220.1,482.2 221.1,482.4 222.2,481.4 223.8,482.2 224.8,482.3 225.6,481.9 226.6,482.7 227.9,482.1 228.4,483.0" fill="none" stroke="#111" stroke-width="2.0" stroke-linejoin="round"/>
<polyline points="180.7,412.5 180.7,411.7 181.5,410.6 181.6,409.8 181.7,408.9 182.1,407.6 182.1,407.3 182.4,406.2 182.6,405.2 183.1,404.6 183.6,403.5 183.4,402.5 183.5,401.5 184.1,400.9 184.2,399.6 184.3,398.7 185.0,397.9 185.7,397.3 185.8,396.3 186.0,395.6 186.9,394.4 187.3,393.5 187.5,392.6 187.9,392.0 188.6,391.2 188.4,392.2 188.9,392.9 189.1,393.9 189.1,394.9 189.5,396.2 189.9,396.8 190.1,398.2 190.0,399.3 189.7,400.0 190.3,400.4 190.1,402.0 190.0,402.8 190.5,403.3 190.1,404.1 190.6,405.1 190.3,406.1 190.8,406.8 190.3,408.3 190.6,408.8 191.1,409.6 190.7,411.0 190.9,411.4 191.4,412.4 191.5,413.4 191.2,414.2 191.5,415.4 191.5,416.3 191.5,417.5 192.1,418.3 192.1,418.7 191.8,419.8 191.9,421.3 192.5,422.2 192.5,422.5 192.5,423.4 193.0,424.5 192.7,425.9 192.8,426.8 193.0,427.6 193.0,428.7 193.4,429.2 193.7,430.3 193.6,430.8 193.9,431.7 194.2,432.9 193.9,433.8 194.0,434.7 194.4,435.7 194.4,436.5 194.6,437.9 194.6,438.8 194.8,439.2 194.7,440.7 195.0,441.3 195.2,442.6 195.2,443.1 195.3,443.8 195.5,445.1 195.6,446.0 195.7,447.1 195.6,448.2 195.7,449.0 195.8,449.8 196.0,450.1 196.3,451.6 196.6,452.6 196.7,452.8 196.5,453.7 196.8,454.9 196.9,456.1 197.2,456.9 197.2,457.7 196.8,458.8 196.9,459.1 197.5,460.1 197.5,460.8 197.3,462.3 197.3,463.0 198.1,463.7 198.1,465.0 198.2,466.0 198.4,466.3 198.3,467.6 198.9,468.3 198.9,469.1 199.2,470.3 199.2,471.4 199.1,472.4 199.7,473.4 199.5,473.8 199.6,475.3 200.0,475.8 200.2,477.0 201.1,476.7 202.3,477.0 203.0,476.5 204.3,477.0 205.1,476.7 206.3,476.7 206.8,476.5 207.8,476.9 208.8,477.2 209.9,477.2 210.8,477.7 211.6,478.0 212.5,478.4 213.5,478.6 214.4,479.0 215.3,479.3 216.0,480.0 217.0,479.9 217.7,480.1 218.8,480.6 219.3,480.5 220.4,481.3 221.4,481.1 222.2,481.4 223.5,481.6 223.9,481.6 225.1,481.5 226.0,482.0" fill="none" stroke="#262626" stroke-width="1.3" stroke-linejoin="round" stroke-dasharray="2.4,2.0"/>
<polygon points="286.5,396.0 288.5,388.0 290.0,385.0 293.5,372.5 294.6,385.0 295.3,397.0 296.5,408.0 294.0,404.0 292.5,394.0 291.2,396.0 290.5,410.0 288.0,412.0" fill="#111" stroke="#111" stroke-width="0.8" stroke-linejoin="round"/>
<polyline points="277.8,465.0 278.3,463.8 277.7,463.3 278.2,462.2 278.7,461.3 278.1,459.7 278.5,459.2 278.6,458.3 278.0,456.9 278.3,456.0 279.3,455.9 278.6,455.2 279.2,453.2 279.5,452.5 279.9,451.5 279.1,450.7 279.9,450.7 279.7,448.7 279.6,448.7 279.2,448.1 280.3,447.2 280.2,445.7 280.7,444.3 279.9,443.1 279.9,443.3 279.9,442.2 280.4,441.5 280.9,440.3 281.2,438.3 280.5,437.9 280.9,437.5 281.6,436.6 281.7,435.6 281.1,434.4 281.7,433.9 281.4,432.3 281.8,431.1 282.3,429.8 282.1,429.7 281.6,428.9 282.1,428.6 282.8,427.0 282.9,426.6 282.1,425.5 283.1,424.8 283.1,423.0 282.6,422.4 282.7,421.7 283.3,420.8 283.2,419.1 284.1,418.7 283.5,417.6 283.8,416.8 284.0,415.3 284.8,415.3 284.6,413.4 284.1,413.2 285.0,412.1 284.4,411.3 284.9,409.8 285.1,409.0 285.3,408.5 285.9,406.6 285.4,407.0 285.7,405.4 286.0,403.6 286.1,403.6 285.9,402.2 286.1,401.0 286.1,400.2 286.7,400.2 286.2,399.2 286.2,397.9 286.0,397.4 286.9,396.4 286.2,395.5 286.3,394.2 287.1,392.5 287.3,393.0 287.8,391.2 288.2,390.4 288.6,389.6 287.7,389.6 288.0,387.6 289.3,386.4 289.6,386.6 290.1,384.8 290.6,384.6 290.6,383.4 290.5,382.2 291.6,382.2 290.6,380.0 291.1,380.1 291.4,378.2 292.3,377.3 292.9,376.9 293.0,376.6 292.4,375.6 292.9,373.8 292.7,373.7 293.6,372.2 294.0,373.0 293.6,373.8 293.5,376.0 293.8,375.8 293.5,377.5 293.7,378.9 293.5,379.8 294.3,380.7 294.0,380.5 293.8,382.3 293.7,382.5 294.8,384.6 295.0,385.5 294.6,386.5 294.9,386.9 294.6,387.0 294.2,388.3 294.7,389.0 295.4,390.7 295.2,392.1 294.6,393.0 295.6,392.9 294.6,394.7 295.6,395.6 295.0,396.2 294.7,396.6 295.2,398.3 294.9,399.5 294.9,400.5 295.2,401.2 296.1,402.3 295.7,402.8 295.6,403.9 295.4,404.9 296.1,404.5 296.7,405.9 295.7,406.7 295.7,407.7 296.7,409.7 296.7,410.4 297.1,411.1 296.7,411.3 296.5,412.7 296.7,413.9 297.0,414.6 297.4,415.6 297.0,415.9 297.8,416.8 298.0,418.9 297.7,419.8 298.1,420.7 298.2,421.3 298.5,421.4 298.5,422.9 298.6,423.9 299.3,425.1 299.3,425.0 299.3,426.7 299.8,426.6 299.0,429.1 299.4,429.6 299.8,430.0 299.8,431.2 300.6,432.1 300.5,432.6 300.6,433.9 300.8,435.3 300.1,436.3 301.0,436.1 301.0,436.7 300.8,438.8 301.6,439.7 301.1,439.4 301.4,440.9 301.9,441.5 301.9,442.9 301.4,444.1 301.2,444.8 301.4,444.8 301.8,446.5 302.0,447.2 302.4,448.8 301.5,448.4 302.6,450.0 301.5,450.5 302.3,451.5 301.9,453.2 302.0,454.1 302.8,455.2 302.4,455.9 302.0,456.8 302.5,457.7 302.4,458.8 302.0,459.7 303.1,459.5 302.2,462.0 302.2,462.6 303.0,462.3 303.3,463.1 303.7,464.5 304.0,466.3 303.2,466.4 303.5,467.9 303.6,467.7 303.8,469.9 304.2,469.9 304.6,471.2 304.8,472.7 304.9,472.9 306.1,473.3 305.7,475.0 306.3,475.9 307.5,475.8 307.3,476.2 308.5,477.5 308.3,477.8 308.7,479.7 309.0,480.0 310.2,480.7 311.0,480.9 311.5,481.9 313.4,481.8 313.6,482.7 314.5,481.8 316.0,483.2 316.8,483.0" fill="none" stroke="#111" stroke-width="2.2" stroke-linejoin="round"/>
<polyline points="277.8,469.0 278.0,467.8 278.4,466.9 278.2,466.7 278.6,465.6 278.3,464.8 278.7,463.3 279.1,463.1 278.8,461.8 279.5,460.8 279.3,460.3 279.5,459.6 280.0,458.6 280.0,457.2 280.2,456.6 280.2,455.7 280.3,454.5 280.8,453.7 280.5,453.3 280.9,452.2 280.9,450.9 281.1,450.5 281.2,449.7 281.4,448.8 281.5,447.6 281.6,446.4 282.0,445.7 282.2,444.6 282.2,443.8 282.7,442.7 282.6,442.4 282.8,441.0 283.2,440.0 282.8,439.0 283.2,438.8 283.2,437.4 283.7,436.3 283.4,435.9 283.6,434.8 283.8,434.0 284.4,433.0 284.2,432.2 284.6,430.8 284.4,430.2 284.8,429.2 285.0,428.2 285.3,427.4 285.0,426.3 285.1,425.5 285.8,424.7 285.6,424.2 286.1,423.2 285.8,421.9 286.1,420.9 286.2,420.0 286.3,419.5 286.7,418.4 287.1,417.6 287.7,416.3 288.3,415.7 288.4,415.2 289.2,413.9 289.1,414.8 289.8,415.6 290.0,416.6 290.6,417.6 291.2,418.1 291.8,419.1 291.7,419.8 292.0,419.0 292.9,418.5 293.0,416.9 293.0,416.0 293.4,415.4 293.5,414.4 294.1,413.6 294.6,412.4 295.3,411.7 296.0,411.3 296.5,410.6 297.6,409.7 298.2,409.6 299.1,408.5 299.1,409.7 299.3,410.5 299.3,411.3 299.5,412.5 299.3,413.5 299.5,414.7 299.9,415.0 299.9,416.1 299.6,417.5 300.1,418.3 300.0,419.4 300.0,420.1 300.2,421.3 300.5,421.8 300.3,423.0 300.7,423.9 301.0,425.3 301.0,426.0 301.2,426.8 301.4,427.7 301.6,429.0 301.3,429.6 301.7,430.7 301.8,431.3 302.1,432.4 301.9,433.6 302.2,434.3 302.1,435.2 302.1,435.9 302.7,436.7 302.4,438.2 302.8,438.9 303.1,440.0 303.1,441.0 303.1,442.1 303.4,442.8 303.6,443.9 303.8,444.7 304.0,445.9 304.5,446.3 304.7,447.8 304.6,448.1 305.3,449.6 305.0,450.4 305.8,450.9 305.9,451.9 306.1,452.9 306.1,453.6 306.5,454.9 306.5,455.3 306.6,456.4 307.4,457.7 307.6,458.6 307.3,459.3 308.1,460.6 308.3,461.5 308.5,462.2 309.1,462.8 308.9,463.5 309.3,464.3 310.1,465.1 310.3,465.8 310.8,466.9 311.3,468.1 311.4,468.4 311.8,469.7 312.6,470.3 313.1,470.6 313.9,471.5 314.5,472.2 315.3,472.8 315.8,473.4 316.8,474.2 317.2,474.8 318.2,475.4 319.0,476.4 319.8,477.0 320.4,477.5 321.7,477.6 322.0,477.6 323.3,478.7 324.2,478.8 324.9,478.8 325.9,479.9 326.5,480.0 327.8,480.4 328.3,480.5 329.4,481.3 330.4,481.0 331.2,481.6 331.9,481.7 332.8,481.5 333.4,482.1 334.8,481.8 335.2,482.2 336.2,482.8 337.1,482.9 338.2,483.0" fill="none" stroke="#262626" stroke-width="1.3" stroke-linejoin="round" stroke-dasharray="2.4,2.0"/>
<polygon points="78.0,522.0 79.5,522.0 81.6,526.5 81.6,555.5 79.0,556.0 78.0,541.0" fill="#111" stroke="#111" stroke-width="0.8" stroke-linejoin="round"/>
<polygon points="70.5,542.3 72.3,545.0 72.8,572.0 73.5,586.6 70.5,586.6" fill="#111" stroke="#111" stroke-width="0.8" stroke-linejoin="round"/>
<polyline points="70.2,542.3 70.3,543.0 70.7,544.0 70.3,545.3 70.2,545.4 70.9,547.2 70.5,547.7 70.6,548.3 69.9,549.6 71.0,549.8 71.1,551.2 71.2,552.7 70.3,552.7 71.1,554.9 71.0,555.1 70.7,556.4 71.1,557.4 70.5,558.3 71.4,558.8 70.2,559.1 71.0,560.3 71.4,561.6 71.2,561.7 71.0,563.5 71.5,564.7 70.7,565.0 71.7,565.3 70.5,566.3 71.4,567.5 71.4,569.2 71.6,568.8 71.5,571.0 71.6,572.0 71.8,572.5 71.9,573.3 70.9,573.8 72.0,574.8 71.5,576.6 71.8,577.3 71.6,577.8 71.1,578.2 71.3,579.7 71.8,579.8 72.0,580.8 71.7,581.6 71.8,582.7 72.5,584.0 72.4,585.0 71.8,586.5 71.8,585.1 72.3,585.0 72.4,582.5 72.1,583.1 72.7,581.2 71.8,580.2 72.6,579.1 72.8,578.3 72.6,578.1 72.1,576.9 72.6,575.6 72.5,575.2 73.1,573.8 72.1,573.2 72.7,572.3 73.2,570.9 72.7,570.4 72.4,569.4 72.8,568.4 73.3,568.4 73.6,566.2 72.9,566.5 72.6,564.2 72.6,564.6 73.3,562.9 72.8,562.6 74.0,561.4 74.0,560.3 73.3,558.7 73.3,557.7 73.5,556.6 73.1,557.1 74.2,556.0 74.5,554.8 75.7,554.8 75.6,553.4 76.1,552.9 76.1,550.6 76.4,551.1 76.4,549.7 76.5,548.2 77.2,547.0 77.1,546.8 77.2,546.1 77.9,544.4 77.9,544.2 77.9,543.0 78.0,542.3 78.2,540.6 78.2,540.4 78.0,539.8 77.8,538.4 78.2,537.5 77.7,536.7 77.7,535.6 78.1,535.0 78.7,534.5 77.9,533.5 78.3,532.0 77.7,531.6 78.0,529.8 78.1,528.8 78.1,528.0 78.5,527.2 78.8,527.2 79.0,525.4 78.7,525.1 78.8,523.6 78.2,523.3 78.8,521.8 79.0,522.2 79.3,524.4 79.7,524.0 79.5,526.0 78.9,526.6 79.1,526.9 79.1,527.9 80.3,529.2 80.4,530.8 80.1,529.5 81.6,528.1 81.4,526.3 81.9,525.7 82.0,525.2 82.8,523.6 82.5,523.1 83.5,522.4 83.8,521.8 84.3,520.2 84.6,519.6 84.4,517.9 84.6,519.7 85.2,520.0 85.0,520.6 85.2,522.2 85.5,523.8 84.7,524.9 85.0,525.9 86.2,525.6 85.4,526.5 86.3,528.4 86.5,529.4 85.8,530.3 85.9,530.5 86.1,532.0 86.0,532.7 86.4,534.0 86.4,534.3 86.6,535.3 86.9,535.7 86.3,536.5 86.7,538.7 87.0,539.3 87.6,540.5 86.8,540.5 87.3,541.5 87.5,542.2 87.3,544.2 87.2,544.3 88.0,545.3 88.3,547.0 88.4,547.8 88.0,548.4 87.5,550.5 87.8,550.0 88.8,551.7 88.5,553.3 88.8,553.2 88.3,554.8 88.9,555.0 88.4,556.4 88.2,557.8 89.1,557.7 89.1,559.4 88.5,560.1 89.5,561.1 89.5,561.7 90.0,563.3 89.5,563.2 89.3,564.1 89.6,565.3 89.4,566.5 89.4,567.4 90.0,568.1 90.2,570.3 90.5,571.2 89.9,571.7 90.2,573.1 90.6,573.6 91.1,573.6 90.3,575.6 91.4,576.0 90.5,576.2 91.6,578.3 91.2,579.2 91.9,579.1 91.9,581.6 92.2,582.4 91.7,582.9 91.4,584.2 92.3,584.5 91.6,585.1 92.2,587.3 92.3,588.1 92.1,588.0 92.2,589.0 93.0,590.0 92.5,591.4 92.7,592.6 93.1,593.4 92.9,593.6 93.0,595.5 93.7,595.7 93.2,595.8 93.8,597.6 93.3,597.8 93.4,599.5 93.3,599.7 93.6,601.0 93.1,601.2 93.6,603.1 93.7,602.9 93.6,604.1 94.4,605.1 94.7,606.1 93.8,606.5 94.3,608.2 94.9,609.4 94.9,609.3 95.7,610.6 95.1,611.4 95.8,613.0 95.8,613.3 95.6,614.8 96.8,614.9 96.5,616.9 97.4,616.8 98.0,618.6 98.6,617.9 99.9,617.9 100.4,618.6 101.6,617.1 101.7,617.0 102.6,617.9 104.1,617.1 104.8,617.0 105.8,617.5 106.7,618.0 108.2,618.1 109.0,617.2 109.4,618.5 110.3,618.2 111.0,618.8 112.1,618.2 113.6,618.0 113.5,618.7 114.9,618.4 115.6,619.0 117.1,618.8 117.7,617.0 118.0,617.1 118.3,617.2 119.4,616.7 120.7,615.4 121.1,615.3 121.6,614.1 122.7,614.0 123.3,614.5 124.1,614.7 123.5,616.2 124.0,616.0 124.9,618.2 124.5,618.5 125.5,619.4 125.0,619.7 124.9,621.7 125.7,622.0" fill="none" stroke="#111" stroke-width="2.1" stroke-linejoin="round"/>
<polyline points="74.1,561.7 74.5,560.6 74.5,559.7 74.7,558.9 74.9,558.2 74.6,557.3 75.2,556.0 74.9,555.3 75.5,555.0 75.5,554.0 75.8,552.6 75.8,552.2 76.0,551.0 76.3,549.9 76.3,549.3 76.5,548.5 76.5,547.5 76.8,546.3 77.2,546.1 77.2,544.8 77.2,543.9 77.4,542.9 77.9,542.1 77.6,541.4 77.6,540.3 78.1,539.8 78.3,538.2 79.0,537.3 78.9,536.8 79.6,535.7 79.4,534.8 79.8,533.8 80.4,533.1 80.6,532.0 80.8,531.6 80.8,530.8 82.1,529.6 82.6,530.3 82.7,531.2 82.5,532.5 82.7,532.7 82.5,534.0 82.7,534.6 83.1,535.7 83.3,536.7 82.9,537.6 83.4,538.9 83.3,539.3 83.4,540.3 83.4,541.0 83.3,542.7 83.9,543.0 83.9,543.8 84.1,545.2 84.1,545.9 84.0,547.2 84.0,547.5 84.0,549.1 84.1,549.3 84.4,550.3 84.4,551.7 84.3,552.3 84.8,553.6 84.9,553.8 85.0,555.2 84.6,556.4 84.6,557.3 84.6,557.5 85.0,558.9 85.1,559.9 84.9,560.8 85.1,561.9 85.4,562.6 85.3,563.6 85.5,564.0 85.7,565.3 85.8,566.0 86.2,566.7 86.0,567.7 86.5,568.8 86.4,569.7 86.9,570.7 86.6,571.0 87.3,572.5 87.0,573.4 87.4,574.2 87.4,575.1 87.5,575.8 87.6,577.0 88.1,577.5 87.8,578.4 88.4,579.4 88.0,580.6 88.5,580.9 88.8,582.1 89.0,583.3 89.2,584.2 89.0,585.1 89.2,585.8 89.2,586.7 89.3,587.8 89.5,588.5 90.1,589.6 90.2,590.1 89.9,591.5 90.2,592.3 90.5,592.9 90.8,593.8 91.1,594.8 91.0,595.6 91.2,596.8 91.4,597.3 91.9,598.2 92.3,599.4 92.2,600.0 92.7,601.0 92.8,601.8 93.0,602.9 93.4,603.6 93.6,604.4 93.5,605.3 94.1,606.1 93.9,607.3 94.4,608.3 94.8,608.7 95.9,609.0 96.3,610.1 96.9,610.1 97.8,611.2 98.6,611.5 99.5,612.4 99.9,612.4 100.9,613.3 101.4,613.7 102.4,614.0 103.2,614.2 104.5,614.4 104.9,615.1 105.8,615.2 106.8,615.8 107.8,615.5 108.5,615.8 109.8,616.3 110.6,616.3 111.6,616.6 112.3,617.3 113.3,617.3 114.1,617.9 114.7,617.9 115.8,618.2 116.4,618.7 117.1,618.8 118.6,619.1 119.3,619.3 120.0,620.0" fill="none" stroke="#262626" stroke-width="1.3" stroke-linejoin="round" stroke-dasharray="2.4,2.0"/>
<polygon points="182.1,529.7 191.7,529.7 191.7,546.6 182.1,546.6" fill="#111" stroke="#111" stroke-width="0.8" stroke-linejoin="round"/>
<polygon points="176.0,541.0 178.0,543.0 182.0,545.0 181.5,556.0 179.0,563.4 176.0,563.0" fill="#111" stroke="#111" stroke-width="0.8" stroke-linejoin="round"/>
<polyline points="174.8,519.3 174.6,520.2 174.6,521.8 175.5,521.7 174.5,523.6 175.3,523.8 174.4,523.9 175.3,525.9 175.0,526.2 174.8,527.2 175.0,528.5 175.0,528.9 174.8,530.4 175.8,530.5 175.6,532.1 174.9,532.2 175.7,533.1 174.8,533.9 175.8,535.3 174.7,536.0 175.4,537.3 175.0,538.8 175.7,538.7 175.3,539.6 175.0,541.1 175.4,542.1 176.2,542.5 175.6,543.5 175.9,543.9 175.9,545.2 175.7,547.0 176.5,547.3 175.8,548.6 176.3,549.8 176.7,549.7 177.0,551.2 176.5,552.4 176.6,552.3 176.3,553.9 176.7,554.1 176.5,556.0 177.1,555.2 178.1,554.2 177.5,553.5 178.2,552.4 178.8,550.6 178.4,550.5 178.5,548.3 178.4,548.1 179.0,549.6 178.8,549.6 179.9,550.8 180.3,551.8 180.6,553.2 180.8,553.5 180.4,554.3 180.4,554.7 181.0,555.9 181.0,554.4 181.8,553.9 181.3,553.0 181.5,552.8 182.1,551.6 182.2,550.3 181.7,549.4 182.4,548.1 181.5,548.2 181.7,546.2 181.9,545.9 182.1,544.6 182.0,543.8 181.8,543.2 182.0,541.8 182.9,541.9 182.3,540.4 182.0,538.7 182.6,539.2 182.1,537.5 183.0,535.9 182.8,535.3 183.1,535.3 183.3,534.3 182.3,533.2 183.0,531.7 182.6,531.0 182.9,530.0 183.7,528.7 183.6,527.7 183.4,527.2 183.2,526.3 183.0,524.9 183.5,523.9 184.2,523.7 184.0,522.7 183.6,520.6 183.6,521.1 184.3,520.2 184.2,518.3 184.7,520.0 184.6,520.4 184.6,521.0 185.5,523.0 185.0,522.7 185.7,524.2 185.6,525.1 184.9,526.6 185.1,527.8 185.3,527.8 185.2,528.6 186.2,529.3 186.5,529.3 187.4,530.0 188.6,530.3 190.1,529.9 191.3,530.5 191.5,530.1 191.9,530.1 192.1,530.8 191.9,533.2 191.9,533.8 191.9,534.3 191.2,535.1 191.5,536.8 192.2,538.0 191.5,538.8 192.2,538.3 191.8,539.4 191.2,540.9 192.0,541.4 191.5,542.8 191.8,543.2 191.3,543.9 191.5,546.4 191.3,547.0 192.0,548.1 192.4,547.8 192.0,550.0 192.5,551.0 191.9,551.9 192.5,552.8 192.9,553.1 192.9,553.5 193.6,555.7 193.3,556.3 193.5,556.9 193.0,558.1 194.0,559.4 193.9,559.2 193.4,560.3 193.8,562.2 194.0,562.6 193.8,562.9 193.7,565.1 194.6,565.5 194.4,565.7 193.6,566.3 193.6,567.5 195.0,569.0 194.1,569.1 193.9,569.9 194.1,571.3 194.2,572.0 194.9,572.8 194.3,574.7 194.6,575.4 194.7,576.4 194.4,576.6 195.6,577.6 195.4,578.3 194.9,579.6 195.5,579.9 195.7,581.4 195.6,582.8 196.4,583.2 195.8,584.6 196.5,585.1 196.4,585.7 196.7,587.0 197.0,587.5 196.1,589.3 196.9,590.1 197.2,590.9 196.8,592.0 197.2,592.1 196.8,592.5 197.0,593.8 197.2,595.1 198.1,595.9 197.8,595.9 198.0,597.7 198.2,598.3 198.2,599.4 198.4,600.2 198.6,601.8 198.3,602.1 198.7,603.1 199.2,604.7 198.7,605.2 198.3,606.5 199.1,606.1 198.5,608.3 199.6,608.9 199.2,609.3 199.5,611.3 199.8,610.8 199.4,611.8 200.4,614.0 200.6,614.3 199.9,614.7 200.0,616.1 200.9,616.5 202.2,617.8 202.5,618.2 203.2,617.7 204.6,617.9 204.5,619.8 206.0,619.0 207.3,619.9 207.8,619.9 208.5,620.2 209.9,619.5 210.4,619.2 211.9,619.4 213.1,621.1 213.4,621.0 214.7,621.0 215.8,621.1 216.7,620.9 217.4,621.8 218.0,622.0" fill="none" stroke="#111" stroke-width="2.1" stroke-linejoin="round"/>
<polyline points="176.1,559.7 176.2,558.6 176.9,558.0 176.8,557.0 177.3,556.3 177.2,555.6 177.8,554.6 178.0,553.6 178.0,553.0 178.5,551.4 178.8,550.8 178.6,550.2 178.9,549.0 179.1,548.2 179.6,547.5 180.1,546.7 180.2,545.4 180.6,544.4 180.5,543.8 180.8,542.9 180.9,541.8 181.1,541.0 181.5,540.5 181.7,539.1 182.3,538.2 182.6,537.6 182.4,536.8 183.2,535.7 183.2,535.0 183.7,534.4 183.4,533.1 184.1,532.2 184.2,531.5 184.0,530.1 184.6,529.5 184.4,528.7 184.7,528.1 184.4,527.0 184.4,526.0 185.0,525.1 184.8,524.5 185.1,523.6 185.1,522.2 185.3,521.5 185.0,520.3 185.7,519.8 185.2,519.0 185.7,517.5 186.0,516.7 185.7,516.3 185.8,515.1 185.9,514.4 186.3,513.7 186.4,514.6 186.2,515.1 186.5,516.5 186.2,517.3 186.4,517.6 186.5,519.2 186.7,520.1 187.0,521.0 186.7,522.0 186.7,522.6 186.7,523.4 187.3,524.7 187.5,525.4 187.3,526.0 187.4,527.5 187.4,528.4 187.4,529.2 187.5,530.3 187.5,530.5 187.9,532.0 188.1,532.6 188.2,533.3 188.0,534.3 188.0,535.0 188.1,536.3 188.5,537.1 188.6,538.0 188.8,538.6 188.9,540.3 188.9,541.0 189.2,541.5 188.8,542.7 189.3,543.6 189.2,544.4 189.3,545.7 189.2,546.4 189.3,547.5 189.5,548.3 189.6,549.1 189.9,550.3 189.9,550.8 190.1,551.5 190.4,552.5 190.0,553.3 190.5,554.8 190.5,555.7 190.4,556.6 190.9,556.9 190.5,558.0 190.8,559.0 191.1,559.7 190.9,560.7 191.0,561.7 191.4,562.4 191.2,563.7 191.3,564.7 191.8,565.0 191.5,566.4 191.6,567.3 192.1,568.1 192.0,569.0 192.2,569.8 192.7,570.7 192.3,571.3 192.6,572.7 193.0,573.2 193.0,574.1 193.1,574.9 193.5,575.9 193.2,577.0 193.3,577.4 193.5,578.9 193.6,579.4 193.7,580.5 193.8,581.4 194.1,581.8 194.1,583.4 194.1,584.2 194.2,584.9 194.6,586.0 194.5,586.5 195.0,588.0 195.2,588.9 195.4,589.9 195.3,590.7 195.6,591.1 196.0,592.2 196.4,593.5 196.4,593.9 196.3,595.0 196.5,595.7 196.7,596.7 196.9,597.5 197.1,599.1 197.6,599.7 197.9,600.9 197.5,601.1 197.8,602.4 198.4,602.9 198.4,604.4 198.4,605.3 199.1,605.6 199.3,606.8 199.6,607.4 199.9,608.1 199.8,609.3 200.3,610.2 200.5,611.5 200.9,612.0 201.1,613.1 201.3,614.1 201.6,614.9 202.1,615.5 202.2,616.6 203.0,616.0 204.0,615.5 204.9,614.9 205.1,614.3 205.8,613.8 207.1,612.7 207.3,612.7 208.2,612.0 209.2,611.7 209.8,611.0 210.8,610.4 211.2,611.0 212.0,611.5 212.8,611.6 213.3,611.8 214.7,612.5 215.3,613.0 216.1,613.5 216.5,613.8 217.6,614.1 218.6,614.5 219.1,615.7 220.0,615.5 220.3,616.5 221.5,616.2 222.2,616.9 223.1,616.8 224.6,617.0 225.5,617.1 226.0,617.3 227.3,618.0 228.2,618.4 229.1,618.1 229.9,618.2 231.0,618.7 231.7,619.4 233.0,619.4 233.6,619.7 234.8,619.3 235.5,620.1 236.8,620.2 237.4,619.7 238.6,619.8 239.4,620.1 240.5,620.2 241.1,620.8 242.3,621.0 242.9,620.4 244.2,620.9 245.0,621.0" fill="none" stroke="#262626" stroke-width="1.3" stroke-linejoin="round" stroke-dasharray="2.4,2.0"/>
<polygon points="279.4,558.0 281.5,556.5 283.6,557.7 283.6,574.5 279.4,574.5" fill="#111" stroke="#111" stroke-width="0.8" stroke-linejoin="round"/>
<polygon points="284.2,549.3 287.5,548.5 292.6,549.3 292.6,568.5 284.2,568.5" fill="#111" stroke="#111" stroke-width="0.8" stroke-linejoin="round"/>
<polygon points="288.2,528.4 290.2,528.4 290.5,548.6 288.0,548.6" fill="#111" stroke="#111" stroke-width="0.8" stroke-linejoin="round"/>
<polygon points="293.6,532.0 295.3,514.5 296.8,514.5 298.1,540.0 296.8,546.0 294.6,541.0" fill="#111" stroke="#111" stroke-width="0.8" stroke-linejoin="round"/>
<rect x="286.9" y="561.5" width="1.1" height="7.5" fill="#fff"/><rect x="289.3" y="561" width="1.1" height="8" fill="#fff"/>
<polyline points="276.7,582.8 277.5,581.5 276.5,580.6 276.8,580.2 277.7,579.4 276.8,578.0 277.0,577.7 277.1,576.2 277.9,574.6 277.8,573.5 277.2,572.8 277.3,572.1 278.2,572.0 277.7,570.3 278.4,569.1 278.0,568.3 278.8,567.3 278.8,566.0 278.4,565.3 278.4,564.2 278.7,564.3 279.2,563.6 278.9,561.6 278.9,560.9 278.9,560.5 279.8,558.5 280.5,558.4 280.6,557.4 282.1,559.3 282.9,558.8 283.0,559.7 283.3,558.9 283.6,557.7 283.3,557.8 284.4,556.5 284.4,555.2 284.2,554.1 284.2,553.7 284.3,552.7 284.2,551.0 284.5,550.9 283.9,548.8 283.8,548.0 284.2,547.0 284.4,546.3 284.7,546.5 284.8,544.1 286.1,543.7 286.1,542.8 285.4,541.4 286.8,540.5 286.4,540.0 286.9,539.3 287.3,538.1 287.2,538.4 287.4,537.5 287.0,536.5 287.7,535.8 288.3,533.6 288.6,532.5 288.6,532.4 288.3,530.3 289.4,529.5 290.5,529.0 290.0,530.5 290.3,530.4 291.2,532.5 290.6,533.3 290.4,533.9 291.2,533.9 291.1,535.0 291.6,536.0 291.5,537.3 291.5,537.2 291.8,539.4 291.7,539.3 292.8,538.3 293.0,537.6 292.3,537.4 293.4,536.0 292.8,534.6 292.7,534.6 293.9,533.1 293.8,532.9 294.3,531.9 294.8,530.3 295.1,530.0 294.5,529.2 294.7,527.9 295.6,527.7 295.5,526.8 296.1,525.2 295.1,525.2 295.1,523.5 295.2,522.8 296.2,521.1 295.8,520.7 296.1,520.6 296.2,518.4 295.8,518.1 295.6,517.9 295.9,516.2 295.8,515.6 296.6,514.0 296.2,515.2 295.7,516.2 296.5,517.5 297.0,518.5 296.9,519.5 296.7,520.6 296.9,521.3 296.3,521.5 297.0,521.9 296.4,524.1 296.3,524.5 296.5,525.6 297.1,525.6 296.6,527.8 296.7,528.9 296.5,529.0 296.4,530.5 296.8,531.3 297.1,531.3 297.4,531.9 297.5,534.0 296.7,534.5 296.8,535.2 297.6,536.1 297.2,536.4 296.5,538.0 297.0,539.6 297.3,540.4 297.3,541.4 297.0,540.8 297.6,542.7 296.9,542.9 297.3,544.9 297.6,545.1 297.5,545.9 297.3,546.5 297.7,547.2 297.5,548.2 297.1,550.2 298.0,550.7 298.2,552.0 297.7,552.7 297.1,552.9 298.1,554.2 298.4,555.0 297.6,555.8 298.4,557.3 297.6,557.4 298.1,558.3 298.5,559.5 298.5,561.5 298.0,562.0 298.6,562.7 298.4,564.3 298.3,564.7 298.2,565.6 299.5,566.3 299.3,567.1 299.0,568.1 299.8,569.0 298.9,570.2 299.7,571.2 299.7,571.7 300.1,572.6 299.7,573.4 299.5,574.4 300.4,575.7 300.3,576.4 300.2,578.1 301.2,578.1 301.0,580.4 300.9,581.3 300.6,582.1 300.7,582.1 300.8,582.7 301.8,584.1 301.5,585.7 301.5,586.8 301.6,587.9 302.7,588.1 302.9,589.6 303.1,589.6 302.6,590.6 302.8,591.9 303.5,592.4 303.3,593.3 303.4,593.8 303.7,595.6 303.9,596.9 304.0,596.9 304.8,598.0 304.0,599.1 304.8,599.6 304.4,600.2 305.0,601.6 305.5,602.1 305.4,603.0 305.1,603.9 305.9,605.8 305.9,606.9 306.6,607.9 306.6,608.2 306.6,609.6 306.6,609.7 307.8,611.7 307.5,612.5 307.0,613.3 307.9,613.5 307.7,615.0 308.7,616.1 307.7,616.8 308.2,617.2 308.0,618.7 308.5,619.2 308.9,621.1 308.8,621.5 310.0,621.0 311.0,619.3 311.7,618.2 311.9,618.4 313.3,618.5 313.7,619.8 313.7,620.7 315.4,620.4 315.4,620.1 316.8,620.1 316.4,618.4 316.9,617.1 317.6,617.7 318.9,617.5 319.0,619.2 319.1,620.6 319.1,620.6 319.5,622.7 321.3,622.0 321.3,622.7 323.1,622.7 324.2,622.4 324.5,622.7 325.0,622.8 326.1,622.2 327.8,621.6 328.0,622.9 329.0,623.1 330.0,622.5" fill="none" stroke="#111" stroke-width="2.1" stroke-linejoin="round"/>
<polyline points="278.5,599.3 278.8,598.2 278.9,597.4 279.2,596.8 279.3,595.4 279.7,594.5 279.8,594.2 279.9,592.6 280.1,591.8 280.1,591.0 280.3,590.4 280.9,589.4 281.2,588.2 281.0,587.5 281.3,586.8 281.4,585.7 281.6,584.7 281.6,584.1 281.8,582.9 282.1,582.0 282.6,581.3 282.9,580.2 282.8,578.8 282.9,578.5 283.2,577.2 283.4,576.2 283.5,575.2 283.8,574.5 283.6,573.3 283.6,572.7 284.1,572.1 284.0,571.0 284.3,570.0 284.3,568.8 284.4,568.3 284.3,567.4 284.3,566.0 284.4,565.5 284.5,564.3 285.0,563.8 284.6,562.4 285.0,562.1 285.1,561.1 285.3,560.2 284.8,559.1 285.1,558.2 285.0,557.4 285.4,556.2 285.4,555.3 285.6,554.5 285.8,553.6 285.3,552.4 285.8,551.5 285.9,550.9 285.7,550.0 286.1,549.2 285.9,548.2 286.1,547.3 286.3,546.3 286.1,545.2 286.4,544.3 286.4,543.4 286.7,543.1 286.9,541.6 287.1,540.9 287.0,540.2 287.5,539.5 287.7,537.9 288.1,536.9 287.8,536.0 288.0,535.1 288.6,534.2 288.6,533.3 288.6,532.3 288.8,531.6 289.3,531.2 289.1,529.9 289.5,529.4 289.4,528.2 289.8,527.1 290.1,526.4 290.1,525.6 290.4,524.2 290.3,523.3 290.9,522.9 290.6,521.8 290.7,520.5 291.3,520.0 291.2,519.0 291.4,518.1 291.5,517.6 291.5,516.4 291.7,515.4 291.8,514.3 292.3,513.3 292.3,512.9 292.6,511.6 292.6,510.9 293.0,512.2 293.1,513.0 293.1,514.1 293.4,514.9 293.2,515.7 293.7,516.6 294.0,517.1 293.7,518.2 293.9,519.5 294.5,520.0 294.8,520.9 295.2,521.7 295.1,523.0 295.5,523.1 296.2,524.4 296.7,524.9 297.1,526.2 297.3,526.4 297.7,527.6 297.7,528.4 298.6,529.3 298.3,530.7 298.6,531.2 298.4,532.3 298.6,533.4 298.7,533.9 298.9,535.3 298.8,535.7 298.8,537.2 298.8,537.8 299.1,539.0 299.2,539.7 299.2,540.5 298.9,541.8 299.1,542.9 299.2,543.4 299.6,544.1 299.7,545.3 299.2,546.3 299.4,547.1 299.9,548.2 299.9,549.5 300.0,549.7 300.3,550.5 300.9,551.5 300.5,552.8 300.9,553.3 301.2,554.2 301.1,555.4 301.4,556.2 301.7,557.6 302.0,558.2 302.0,559.0 302.1,560.2 302.6,561.1 302.4,561.9 302.4,562.9 302.9,563.3 302.5,564.8 302.9,565.6 303.2,566.5 302.9,567.0 303.1,568.4 303.5,568.7 303.2,570.1 303.8,570.4 303.6,571.4 303.7,572.2 303.8,573.2 303.7,574.8 304.3,575.5 305.1,575.8 305.4,576.6 305.9,577.5 306.3,578.3 306.6,578.9 307.0,579.9 306.9,581.1 307.1,581.9 307.1,582.7 307.4,583.4 307.4,584.9 307.4,585.5 307.7,586.7 307.6,587.5 308.0,588.4 307.7,589.7 307.9,590.3 307.8,591.3 308.3,592.5 308.2,592.7 308.3,594.0 308.7,594.9 308.8,596.2 308.5,597.3 308.6,597.7 308.7,599.1 309.4,599.6 309.5,601.1 309.9,601.5 310.0,603.0 310.6,603.6 310.7,604.2 310.9,605.7 311.0,606.2 311.6,607.0 311.9,608.4 312.3,609.0 313.3,609.8 313.6,610.3 314.0,611.4 314.4,612.2 314.6,613.1 315.3,614.0 315.9,614.9 316.7,615.6 317.3,615.9 317.9,616.7 318.6,617.5 319.4,618.0 320.8,617.6 321.5,617.9 322.6,617.5 323.4,617.8 324.1,617.5 325.1,618.0 326.0,618.2 327.0,618.4 328.5,618.7 329.0,619.4 329.8,619.2 330.8,619.8 331.5,619.7 332.3,620.0 333.4,620.5 334.2,620.7 335.4,620.8 336.3,621.4 337.0,621.5" fill="none" stroke="#262626" stroke-width="1.3" stroke-linejoin="round" stroke-dasharray="2.4,2.0"/>
<polyline points="423.0,493.8 423.5,493.1 423.7,492.1 423.9,491.4 424.1,490.2 424.4,489.4 425.1,488.6 425.0,487.9 425.4,486.6 425.9,485.6 426.3,485.1 426.6,484.3 426.6,483.1 426.8,482.5 427.3,481.4 427.4,480.8 427.5,479.9 427.8,478.9 428.0,478.4 428.2,477.1 428.7,476.3 428.8,475.5 429.1,474.6 429.4,473.5 429.7,472.8 430.0,471.9 430.3,470.9 430.4,470.4 430.4,469.4 430.7,468.0 430.9,467.3 430.9,466.7 431.3,465.8 431.3,464.6 431.7,463.6 431.7,462.7 432.0,461.9 432.2,460.9 432.4,460.2 432.5,459.1 433.0,458.4 433.1,457.5 433.2,456.6 433.5,455.4 433.7,454.5 433.8,453.4 434.1,452.6 434.2,451.8 434.5,451.1 434.8,450.0 434.7,449.0 435.1,448.0 435.4,447.0 435.4,446.5 435.5,445.3 436.0,444.7 435.9,443.6 436.1,442.3 436.4,441.8 436.5,440.5 436.5,440.0 436.8,439.1 436.5,438.0 436.8,436.8 437.0,435.8 437.0,435.1 437.2,434.1 437.4,433.3 437.4,432.2 437.6,431.1 437.8,430.7 437.9,429.9 438.2,428.7 438.6,427.8 438.6,427.2 438.6,426.1 439.0,425.2 439.3,424.5 439.4,423.7 439.9,422.8 440.6,421.8 441.1,420.8 441.6,421.5 442.0,422.3 442.4,423.1 442.4,424.1 442.6,424.8 443.2,425.7 443.2,426.9 443.9,427.7 444.0,428.4 444.4,429.6 444.6,430.3 444.6,431.2 444.9,432.2 445.0,432.9 445.5,433.7 445.5,434.9 445.9,436.0 446.4,436.7 446.5,437.5 446.8,438.4 447.0,439.4 446.8,440.3 447.1,441.0 447.3,442.4 447.2,443.1 447.1,444.0 447.4,445.1 447.4,445.9 447.5,446.7 447.5,448.0 447.5,449.1 447.6,449.7 447.8,450.7 447.9,451.7 447.8,452.8 448.3,453.7 448.3,454.2 448.4,455.4 448.6,456.3 448.6,457.1 448.4,458.0 448.9,459.0 448.6,459.8 449.1,461.1 448.9,461.6 449.2,462.4 449.2,463.6 449.1,464.3 449.3,465.7 449.3,466.6 449.3,467.2 449.5,468.0 449.8,469.1 449.4,470.1 449.6,470.8 450.0,471.7 449.8,472.9 449.9,473.9 449.9,474.3 450.4,475.5 450.3,476.5 450.3,477.5 450.3,478.4 450.5,479.3 450.8,480.2 450.6,480.9 451.1,481.8 450.9,482.7 451.0,483.3 451.3,484.2 451.4,485.3 451.7,486.2 451.7,487.2 451.7,488.0 451.8,488.9 452.2,490.1 452.5,490.9 452.2,491.6 452.4,492.5 452.6,493.5 452.5,494.4 452.7,495.4 453.3,496.2 453.3,497.3 453.5,497.8 453.5,498.8 453.6,499.7 453.7,500.5 454.1,501.7 454.8,502.1 455.1,503.5 455.4,504.3 455.7,505.0 456.0,505.8 456.3,506.7 456.8,507.7 457.1,509.0 457.4,509.5 458.4,510.1 458.8,510.9 459.7,511.6 460.4,511.9 461.3,512.7 461.8,513.0 462.9,513.7 463.7,514.7 464.4,514.4 465.2,514.6 466.2,515.1 467.2,515.1 468.1,515.6 468.9,515.6 469.9,515.8 470.4,516.2 471.3,516.1 472.3,516.5 473.3,516.5 474.4,516.9 475.2,516.8 475.9,517.3 477.0,517.5 477.8,517.7 478.5,517.5 479.8,517.9 480.3,517.9 481.3,518.2 482.4,518.4 483.2,518.2 484.0,518.8 485.2,518.7 486.0,518.6 486.6,518.6 487.7,518.5 488.6,518.8 489.6,518.9 490.7,519.0 491.7,519.1 492.3,519.1 493.4,519.0 494.3,519.6 495.3,519.5 496.2,519.1 497.0,519.4 497.8,519.5 498.7,519.7 499.6,519.5 500.5,519.9 501.5,519.7 502.4,519.6 503.5,519.4 504.7,519.8 505.2,519.7 506.2,519.7 507.4,519.6 508.4,519.8 509.2,520.2 509.9,520.0 511.2,519.9 511.8,520.1 512.9,520.0" fill="none" stroke="#111" stroke-width="2.2" stroke-linejoin="round"/>
<polyline points="423.9,468.1 424.0,467.0 424.3,466.1 424.3,465.2 424.3,464.5 424.4,463.6 424.7,462.6 424.7,461.9 424.7,461.0 425.1,459.9 424.9,458.9 425.1,458.1 425.2,457.3 425.6,456.1 425.6,455.3 425.6,454.4 425.7,453.5 425.9,452.5 425.9,451.6 426.0,450.8 426.2,450.0 426.4,449.0 426.4,448.0 426.4,447.3 426.8,446.3 426.8,445.2 426.9,444.5 427.0,443.5 427.1,442.5 427.4,441.9 427.4,440.8 427.6,439.8 427.7,439.1 427.9,438.1 428.1,437.3 428.3,436.5 428.5,435.6 428.6,434.8 428.7,433.7 428.7,432.9 429.0,432.1 429.0,430.9 429.4,430.3 429.5,429.2 429.7,428.4 429.9,427.6 430.0,426.6 430.2,425.5 430.5,425.0 430.7,424.0 431.0,423.1 431.1,422.2 431.6,421.1 431.8,420.1 431.9,419.3 432.3,418.6 432.7,417.7 432.7,416.6 433.0,417.7 433.4,418.7 433.8,419.7 434.2,420.6 434.5,421.7 434.7,422.7 434.8,423.4 435.0,424.4 435.0,425.4 435.1,426.3 435.3,427.0 435.3,428.1 435.5,428.9 435.6,429.7 435.5,430.9 435.6,431.6 435.7,432.4 436.0,433.5 435.9,434.1 436.2,435.1 436.2,436.0 436.4,436.9 436.3,437.8 436.5,438.9 436.4,439.7 436.8,440.6 436.8,441.6 436.7,442.6 437.0,443.3 436.9,444.1 437.2,445.2 437.3,446.0 437.2,446.8 437.3,448.0 437.7,448.7 437.7,449.7 438.0,450.8 437.8,451.7 438.1,452.4 438.2,453.2 438.3,454.4 438.2,455.1 438.6,456.3 438.6,457.2 438.6,457.9 438.9,458.6 438.9,459.6 439.1,460.8 439.1,461.7 439.1,462.4 439.5,463.6 439.4,464.1 439.5,465.4 439.6,466.0 439.7,467.0 440.0,467.9 440.0,468.8 440.1,469.7 440.1,470.6 440.2,471.4 440.4,472.4 440.5,473.4 440.3,474.4 440.6,475.2 440.5,476.2 440.6,477.2 440.9,477.7 440.8,479.0 441.0,479.6 441.0,480.8 441.0,481.4 441.3,482.4 441.3,483.3 441.4,484.3 441.5,485.0 441.6,486.3 441.8,486.8 441.7,487.8 442.0,488.7 442.1,489.7 442.3,490.5 442.3,491.7 442.5,492.5 442.8,493.3 442.9,494.6 443.1,495.4 443.1,496.3 443.2,497.1 443.4,498.0 443.4,499.1 443.9,500.1 443.8,500.8 443.9,501.9 444.3,502.8 444.2,503.9 444.6,504.5 444.8,505.8 445.2,506.5 445.7,507.3 446.3,508.3 447.0,508.9 447.6,509.7 447.9,510.7 448.7,511.8 449.5,511.9 450.6,512.3 451.7,512.7 452.5,513.0 453.6,513.3 454.4,513.7 455.4,513.9 456.4,514.4 457.3,514.8 458.2,514.9 459.2,515.2 460.3,515.3 460.9,515.5 462.0,516.0" fill="none" stroke="#262626" stroke-width="1.2" stroke-linejoin="round" stroke-dasharray="2.4,2.0"/>
<polygon points="94.0,482.8 94.0,481.5 94.9,480.3 96.0,479.4 97.0,480.3 97.9,481.2 98.7,480.8 99.4,480.0 100.1,479.1 101.0,479.7 101.7,481.2 102.7,480.3 103.9,476.3 104.6,476.3 105.8,481.6 107.0,481.3 108.2,480.8 109.5,480.5 110.3,481.8 111.2,480.5 112.5,480.4 113.7,480.5 114.7,480.1 115.4,480.2 116.5,480.6 117.2,481.3 118.1,479.1 119.0,481.1 120.0,479.7 121.2,481.5 122.1,481.7 122.9,480.5 123.0,482.8" fill="#111"/>
<polygon points="200.0,483.3 200.0,481.9 201.2,481.6 202.3,481.9 203.0,481.7 204.2,482.0 204.9,480.3 205.8,479.5 206.6,482.2 207.7,477.3 208.7,477.3 210.0,479.8 210.7,481.1 211.4,479.2 212.1,481.0 212.9,480.8 213.9,481.5 214.9,480.2 215.6,479.2 216.5,480.5 217.8,481.3 218.4,481.5 219.1,482.0 220.3,480.2 221.0,481.1 221.9,481.9 222.7,482.2 223.9,480.9 224.9,479.6 225.9,480.8 227.0,480.6 227.8,479.9 228.5,480.4 229.2,480.7 229.9,480.6 230.7,480.1 231.0,483.3" fill="#111"/>
<polygon points="303.0,483.6 303.0,482.5 304.0,481.7 305.1,481.1 305.7,481.2 306.4,480.3 307.4,478.6 308.2,478.6 309.0,478.6 309.7,480.2 310.5,481.4 311.3,480.5 312.0,480.2 312.7,482.1 313.6,482.0 314.3,480.7 314.9,482.0 315.5,482.7 316.4,481.3 317.0,481.6 317.8,480.2 319.1,481.2 320.0,483.6" fill="#111"/>
<polygon points="96.0,622.2 96.0,620.5 97.0,617.1 98.2,617.9 99.3,616.9 100.3,620.0 101.4,615.7 102.6,615.7 103.8,618.1 104.9,619.8 105.8,618.6 107.1,617.9 108.2,616.7 109.1,618.2 110.1,619.0 111.0,619.3 111.6,616.9 112.4,617.3 113.2,619.4 113.9,618.7 114.6,619.2 115.7,616.9 116.4,617.8 117.6,617.3 118.8,617.6 119.7,620.5 120.5,617.5 121.3,618.8 122.4,613.7 123.2,613.7 124.5,613.7 125.6,618.0 126.0,622.2" fill="#111"/>
<polygon points="198.0,622.8 198.0,620.4 199.0,620.0 200.0,621.1 200.9,619.2 201.7,620.3 202.8,619.5 203.8,621.5 204.9,619.2 205.6,621.2 206.8,620.2 208.0,621.6 209.2,616.8 209.9,616.8 210.9,616.8 212.2,621.7 213.0,618.8 214.2,621.2 215.5,621.5 216.4,619.0 217.1,620.6 217.9,620.0 218.0,622.8" fill="#111"/>
<polygon points="306.0,623.1 306.0,621.2 306.9,620.5 308.0,621.7 308.6,619.4 309.6,619.6 310.7,621.9 311.4,616.6 312.4,616.6 313.5,621.3 314.8,619.7 315.5,617.6 316.5,617.6 317.2,617.6 318.1,620.6 319.4,620.9 320.4,619.1 321.5,619.8 322.7,619.8 323.9,619.7 324.0,623.1" fill="#111"/>
<path d="M50.3,598.8 L50.3,647.4 L90.2,647.4" fill="none" stroke="#111" stroke-width="1.4"/>
<path d="M50.3,586.8 L47.0,599.3 L53.599999999999994,599.3 Z" fill="#111"/>
<path d="M102.2,647.4 L89.4,644.3 L89.4,650.5 Z" fill="#111"/>
<path d="M405.1,495.1 L405.1,542.3 L448.5,542.3" fill="none" stroke="#111" stroke-width="1.4"/>
<path d="M405.1,483.1 L401.8,495.6 L408.40000000000003,495.6 Z" fill="#111"/>
<path d="M460.5,542.3 L447.7,539.1999999999999 L447.7,545.4 Z" fill="#111"/>
<text transform="translate(40.2,660.4) rotate(-90)" style="font-family:'Liberation Serif',serif;font-weight:bold;font-size:15.5px" stroke="#111" stroke-width="0.35" textLength="83.1" lengthAdjust="spacingAndGlyphs">Cell number</text>
<text x="53.7" y="665.9" style="font-family:'Liberation Serif',serif;font-weight:bold;font-size:15.5px" stroke="#111" stroke-width="0.35" textLength="38.1" lengthAdjust="spacingAndGlyphs">Fas-L</text>
<text transform="translate(395.8,555.0) rotate(-90)" style="font-family:'Liberation Serif',serif;font-weight:bold;font-size:15.5px" stroke="#111" stroke-width="0.35" textLength="81.8" lengthAdjust="spacingAndGlyphs">Cell number</text>
<text x="415.0" y="561.9" style="font-family:'Liberation Serif',serif;font-weight:bold;font-size:15.5px" stroke="#111" stroke-width="0.35" textLength="37.0" lengthAdjust="spacingAndGlyphs">Fas-L</text>
</svg>
</body></html>
